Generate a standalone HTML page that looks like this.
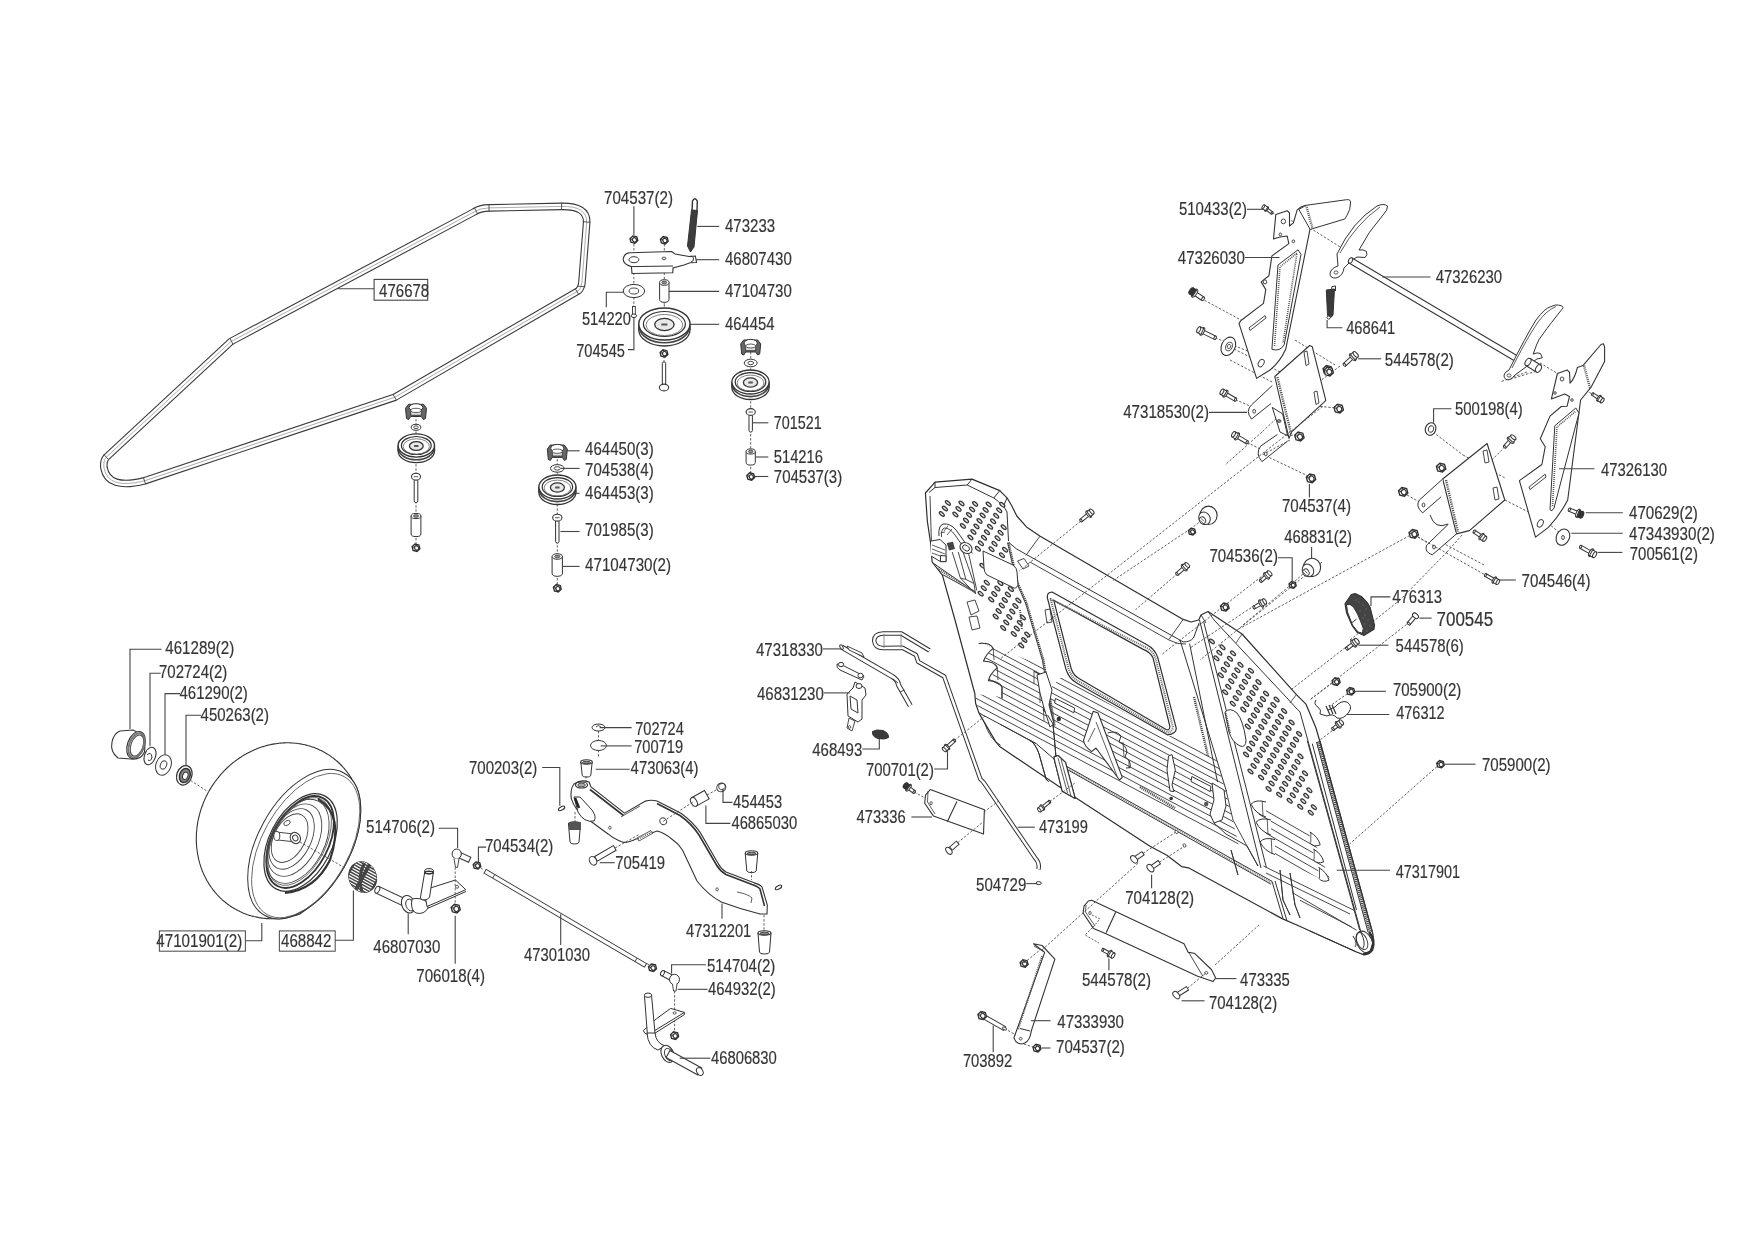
<!DOCTYPE html>
<html><head><meta charset="utf-8"><style>
html,body{margin:0;padding:0;background:#fff;}
svg{display:block;will-change:transform;}
text{font-family:"Liberation Sans",sans-serif;font-size:18px;fill:#353535;stroke:#353535;stroke-width:0.18px;}
</style></head><body>
<svg width="1754" height="1240" viewBox="0 0 1754 1240">
<rect width="1754" height="1240" fill="#fff"/>
<path d="M231,341.5 L474,212 Q480,208 489,207.9 L561.6,206.4 Q587,206 586.7,222 L581.9,283 Q581,289 578,291 L394.7,397.3 L144.5,480.8 Q108,490 104,468 Q103,461 106.3,457.2 Z" fill="none" stroke="#3a3a3a" stroke-width="7.6" stroke-linejoin="round"/>
<path d="M231,341.5 L474,212 Q480,208 489,207.9 L561.6,206.4 Q587,206 586.7,222 L581.9,283 Q581,289 578,291 L394.7,397.3 L144.5,480.8 Q108,490 104,468 Q103,461 106.3,457.2 Z" fill="none" stroke="#fff" stroke-width="5.4" stroke-linejoin="round"/>
<path d="M231,341.5 L474,212 Q480,208 489,207.9 L561.6,206.4 Q587,206 586.7,222 L581.9,283 Q581,289 578,291 L394.7,397.3 L144.5,480.8 Q108,490 104,468 Q103,461 106.3,457.2 Z" fill="none" stroke="#999" stroke-width="0.8" stroke-linejoin="round"/>
<g stroke="#444" stroke-width="0.9"><line x1="229.8" y1="338.0" x2="233.2" y2="344.6"/><line x1="103.8" y1="454.5" x2="108.8" y2="459.9"/><line x1="143.3" y1="477.3" x2="145.7" y2="484.3"/><line x1="392.8" y1="394.1" x2="396.6" y2="400.5"/><line x1="474.3" y1="207.5" x2="477.7" y2="214.1"/><line x1="489.0" y1="204.2" x2="489.0" y2="211.6"/><line x1="561.6" y1="202.7" x2="561.6" y2="210.1"/><line x1="582.9" y1="221.7" x2="590.3" y2="222.3"/><line x1="577.9" y1="286.2" x2="585.3" y2="286.8"/><line x1="575.1" y1="288.4" x2="578.9" y2="294.8"/></g>
<rect x="374.1" y="279.4" width="53.6" height="20.8" fill="none" stroke="#444" stroke-width="1.1"/>
<line x1="633.9" y1="244" x2="633.9" y2="306" stroke="#444" stroke-width="0.85" stroke-dasharray="2.4,1.7" fill="none"/>
<line x1="664.3" y1="244" x2="664.3" y2="306" stroke="#444" stroke-width="0.85" stroke-dasharray="2.4,1.7" fill="none"/>
<line x1="664.3" y1="296" x2="664.3" y2="312" stroke="#444" stroke-width="0.85" stroke-dasharray="2.4,1.7" fill="none"/>
<line x1="664" y1="356" x2="664" y2="362" stroke="#444" stroke-width="0.85" stroke-dasharray="2.4,1.7" fill="none"/>
<path d="M637.8,240.6 L634.9,243.3 L631.0,242.3 L630.0,238.6 L632.9,235.9 L636.8,236.9 Z" fill="#fff" stroke="#2e2e2e" stroke-width="1.35"/><ellipse cx="634.5" cy="239.9" rx="2.0" ry="2.2" fill="#fff" stroke="#333" stroke-width="1.2" transform="rotate(-30 634.5 239.9)" /><path d="M630.0,238.6 L632.7,239.6 M632.9,235.9 L633.9,237.6 M633.9,241.6 L634.9,243.3" stroke="#333" stroke-width="1"/>
<path d="M668.2,241.2 L665.3,243.9 L661.4,242.9 L660.4,239.2 L663.3,236.5 L667.2,237.5 Z" fill="#fff" stroke="#2e2e2e" stroke-width="1.35"/><ellipse cx="664.9" cy="240.5" rx="2.0" ry="2.2" fill="#fff" stroke="#333" stroke-width="1.2" transform="rotate(-30 664.9 240.5)" /><path d="M660.4,239.2 L663.1,240.2 M663.3,236.5 L664.3,238.2 M664.3,242.2 L665.3,243.9" stroke="#333" stroke-width="1"/>
<path d="M691.5,210 L697.5,210.5 L694,247 L690.5,252 L687.5,246 Z" fill="#3d3d3d" stroke="#333" stroke-width="1"/>
<path d="M692,211 L692.5,201 Q694.8,196.5 697.3,201 L697,210.5" fill="none" stroke="#333" stroke-width="1.4"/>
<path d="M630.2,252.8 L671.6,251.5 L675,254 L689,256.5 L695.4,256 L696.5,262.5 L690,262.8 L684,265 L673,268 L672.8,272.8 L632,273.5 L631.4,266.6 Q623,264 623.2,259 Q624,253 630.2,252.8 Z" fill="#fff" stroke="#333" stroke-width="1.1"/>
<path d="M631.4,266.6 L673,266" fill="none" stroke="#333" stroke-width="1"/>
<ellipse cx="633.9" cy="259.7" rx="5.0" ry="3.0" fill="#fff" stroke="#333" stroke-width="1.0" /><ellipse cx="664.0" cy="258.4" rx="2.0" ry="1.2" fill="#fff" stroke="#333" stroke-width="0.9" />
<path d="M689.5,256.5 Q692,255 693.5,258 Q694,261.5 691,262" fill="none" stroke="#333" stroke-width="1"/>
<ellipse cx="633.9" cy="291.0" rx="10.7" ry="6.6" fill="#fff" stroke="#333" stroke-width="1.0" /><ellipse cx="633.9" cy="291.0" rx="4.8" ry="3.0" fill="#fff" stroke="#333" stroke-width="0.9" />
<path d="M659.6,282.5 L659.6,299.5 A4.7,2.8 0 0 0 669.0,299.5 L669.0,282.5" fill="#fff" stroke="#333" stroke-width="1"/><ellipse cx="664.3" cy="282.5" rx="4.7" ry="2.8" fill="#fff" stroke="#333" stroke-width="1.0" /><ellipse cx="664.3" cy="282.5" rx="2.4" ry="1.4" fill="#999" stroke="#333" stroke-width="0.8" />
<rect x="632.5" y="306.5" width="2.8" height="10" fill="#fff" stroke="#333" stroke-width="0.9"/><ellipse cx="633.9" cy="315.8" rx="2.6" ry="1.8" fill="#fff" stroke="#333" stroke-width="1" />
<g><ellipse cx="664.4" cy="330.0" rx="25.6" ry="16.0" fill="#fff" stroke="#333" stroke-width="1.3" /><rect x="638.8" y="324.0" width="51.2" height="6.0" fill="#fff"/><line x1="638.8" y1="324.0" x2="638.8" y2="330.0" stroke="#333" stroke-width="1.3"/><line x1="690.0" y1="324.0" x2="690.0" y2="330.0" stroke="#333" stroke-width="1.3"/><ellipse cx="664.4" cy="327.3" rx="24.8" ry="15.5" fill="none" stroke="#444" stroke-width="1.6" /><ellipse cx="664.4" cy="324.0" rx="25.6" ry="16.0" fill="#fff" stroke="#333" stroke-width="1.4" /><ellipse cx="664.4" cy="324.0" rx="21.0" ry="12.5" fill="none" stroke="#333" stroke-width="1.2" /><ellipse cx="664.4" cy="325.0" rx="18.4" ry="10.6" fill="none" stroke="#666" stroke-width="0.8" /><ellipse cx="664.4" cy="324.5" rx="9.7" ry="6.1" fill="#e8e8e8" stroke="#333" stroke-width="1.3" /><rect x="661.3" y="323.5" width="6.1" height="2" fill="#555"/></g>
<path d="M667.9,354.4 L665.0,357.1 L661.1,356.1 L660.1,352.4 L663.0,349.7 L666.9,350.7 Z" fill="#fff" stroke="#2e2e2e" stroke-width="1.35"/><ellipse cx="664.6" cy="353.7" rx="2.0" ry="2.2" fill="#fff" stroke="#333" stroke-width="1.2" transform="rotate(-30 664.6 353.7)" /><path d="M660.1,352.4 L662.8,353.4 M663.0,349.7 L664.0,351.4 M664.0,355.4 L665.0,357.1" stroke="#333" stroke-width="1"/>
<rect x="662.3" y="362.0" width="3.4" height="25.5" rx="1.5" fill="#fff" stroke="#333" stroke-width="1"/><ellipse cx="664.0" cy="387.5" rx="4.6" ry="3.4" fill="#fff" stroke="#333" stroke-width="1.1" />
<line x1="750.7" y1="352" x2="750.7" y2="480" stroke="#444" stroke-width="0.85" stroke-dasharray="2.4,1.7" fill="none"/>
<path d="M740.7,343.9 L741.7,354.0 L743.7,355.0 L745.7,352.0 L755.7,352.0 L757.7,355.0 L759.7,354.0 L760.7,343.9 L757.7,340.0 L743.7,340.0 Z" fill="#666" stroke="#333" stroke-width="1"/><ellipse cx="750.7" cy="343.1" rx="6.6" ry="3.7" fill="#fff" stroke="#333" stroke-width="1.0" /><rect x="745.7" y="345.6" width="10.0" height="5.1" fill="#ddd" stroke="#333" stroke-width="0.8"/><ellipse cx="750.7" cy="346.0" rx="5.0" ry="2.0" fill="#fff" stroke="#333" stroke-width="0.8" />
<ellipse cx="750.7" cy="363.0" rx="6.5" ry="3.8" fill="#fff" stroke="#333" stroke-width="1.0" /><ellipse cx="750.7" cy="363.0" rx="2.9" ry="1.7" fill="#fff" stroke="#333" stroke-width="0.9" />
<g><ellipse cx="750.5" cy="387.5" rx="18.6" ry="12.0" fill="#fff" stroke="#333" stroke-width="1.3" /><rect x="731.9" y="382.0" width="37.2" height="5.5" fill="#fff"/><line x1="731.9" y1="382.0" x2="731.9" y2="387.5" stroke="#333" stroke-width="1.3"/><line x1="769.1" y1="382.0" x2="769.1" y2="387.5" stroke="#333" stroke-width="1.3"/><ellipse cx="750.5" cy="385.0" rx="18.0" ry="11.6" fill="none" stroke="#444" stroke-width="1.6" /><ellipse cx="750.5" cy="382.0" rx="18.6" ry="12.0" fill="#fff" stroke="#333" stroke-width="1.4" /><ellipse cx="750.5" cy="382.0" rx="15.3" ry="9.4" fill="none" stroke="#333" stroke-width="1.2" /><ellipse cx="750.5" cy="383.0" rx="13.4" ry="7.9" fill="none" stroke="#666" stroke-width="0.8" /><ellipse cx="750.5" cy="382.5" rx="7.1" ry="4.6" fill="#e8e8e8" stroke="#333" stroke-width="1.3" /><rect x="748.3" y="381.5" width="4.5" height="2" fill="#555"/></g>
<rect x="749.0" y="412.0" width="3.4" height="20.0" rx="1.5" fill="#fff" stroke="#333" stroke-width="1"/><ellipse cx="750.7" cy="412.0" rx="4.6" ry="3.4" fill="#fff" stroke="#333" stroke-width="1.1" /><line x1="748.4" y1="412.0" x2="753.0" y2="412.0" stroke="#333" stroke-width="0.8"/>
<path d="M746.1,451.5 L746.1,462.5 A4.6,2.6 0 0 0 755.3,462.5 L755.3,451.5" fill="#fff" stroke="#333" stroke-width="1"/><ellipse cx="750.7" cy="451.5" rx="4.6" ry="2.6" fill="#fff" stroke="#333" stroke-width="1.0" /><ellipse cx="750.7" cy="451.5" rx="2.3" ry="1.3" fill="#999" stroke="#333" stroke-width="0.8" />
<path d="M754.6,477.5 L751.7,480.2 L747.8,479.2 L746.8,475.5 L749.7,472.8 L753.6,473.8 Z" fill="#fff" stroke="#2e2e2e" stroke-width="1.35"/><ellipse cx="751.3" cy="476.8" rx="2.0" ry="2.2" fill="#fff" stroke="#333" stroke-width="1.2" transform="rotate(-30 751.3000000000001 476.8)" /><path d="M746.8,475.5 L749.5,476.5 M749.7,472.8 L750.7,474.5 M750.7,478.5 L751.7,480.2" stroke="#333" stroke-width="1"/>
<line x1="557.3" y1="455" x2="557.3" y2="590" stroke="#444" stroke-width="0.85" stroke-dasharray="2.4,1.7" fill="none"/>
<path d="M547.3,449.1 L548.3,459.4 L550.3,460.4 L552.3,457.4 L562.3,457.4 L564.3,460.4 L566.3,459.4 L567.3,449.1 L564.3,445.0 L550.3,445.0 Z" fill="#666" stroke="#333" stroke-width="1"/><ellipse cx="557.3" cy="448.2" rx="6.6" ry="3.8" fill="#fff" stroke="#333" stroke-width="1.0" /><rect x="552.3" y="450.8" width="10.0" height="5.2" fill="#ddd" stroke="#333" stroke-width="0.8"/><ellipse cx="557.3" cy="451.2" rx="5.0" ry="2.1" fill="#fff" stroke="#333" stroke-width="0.8" />
<ellipse cx="557.3" cy="468.4" rx="6.8" ry="3.8" fill="#fff" stroke="#333" stroke-width="1.0" /><ellipse cx="557.3" cy="468.4" rx="3.1" ry="1.7" fill="#fff" stroke="#333" stroke-width="0.9" />
<g><ellipse cx="557.4" cy="492.5" rx="18.5" ry="12.0" fill="#fff" stroke="#333" stroke-width="1.3" /><rect x="538.9" y="487.0" width="37.0" height="5.5" fill="#fff"/><line x1="538.9" y1="487.0" x2="538.9" y2="492.5" stroke="#333" stroke-width="1.3"/><line x1="575.9" y1="487.0" x2="575.9" y2="492.5" stroke="#333" stroke-width="1.3"/><ellipse cx="557.4" cy="490.0" rx="17.9" ry="11.6" fill="none" stroke="#444" stroke-width="1.6" /><ellipse cx="557.4" cy="487.0" rx="18.5" ry="12.0" fill="#fff" stroke="#333" stroke-width="1.4" /><ellipse cx="557.4" cy="487.0" rx="15.2" ry="9.4" fill="none" stroke="#333" stroke-width="1.2" /><ellipse cx="557.4" cy="488.0" rx="13.3" ry="7.9" fill="none" stroke="#666" stroke-width="0.8" /><ellipse cx="557.4" cy="487.5" rx="7.0" ry="4.6" fill="#e8e8e8" stroke="#333" stroke-width="1.3" /><rect x="555.2" y="486.5" width="4.4" height="2" fill="#555"/></g>
<rect x="555.6" y="517.7" width="3.4" height="25.3" rx="1.5" fill="#fff" stroke="#333" stroke-width="1"/><ellipse cx="557.3" cy="517.7" rx="4.6" ry="3.4" fill="#fff" stroke="#333" stroke-width="1.1" /><line x1="555.0" y1="517.7" x2="559.6" y2="517.7" stroke="#333" stroke-width="0.8"/>
<path d="M552.1,556.5 L552.1,574.0 A5.2,2.8 0 0 0 562.4,574.0 L562.4,556.5" fill="#fff" stroke="#333" stroke-width="1"/><ellipse cx="557.3" cy="556.5" rx="5.2" ry="2.8" fill="#fff" stroke="#333" stroke-width="1.0" /><ellipse cx="557.3" cy="556.5" rx="2.6" ry="1.4" fill="#999" stroke="#333" stroke-width="0.8" />
<path d="M561.2,589.3 L558.3,592.0 L554.4,591.0 L553.4,587.3 L556.3,584.6 L560.2,585.6 Z" fill="#fff" stroke="#2e2e2e" stroke-width="1.35"/><ellipse cx="557.9" cy="588.6" rx="2.0" ry="2.2" fill="#fff" stroke="#333" stroke-width="1.2" transform="rotate(-30 557.9 588.5999999999999)" /><path d="M553.4,587.3 L556.1,588.3 M556.3,584.6 L557.3,586.3 M557.3,590.3 L558.3,592.0" stroke="#333" stroke-width="1"/>
<line x1="416" y1="415" x2="416" y2="550" stroke="#444" stroke-width="0.85" stroke-dasharray="2.4,1.7" fill="none"/>
<path d="M405.5,408.3 L406.5,418.5 L408.5,419.5 L410.8,416.5 L421.2,416.5 L423.5,419.5 L425.5,418.5 L426.5,408.3 L423.5,404.3 L408.5,404.3 Z" fill="#666" stroke="#333" stroke-width="1"/><ellipse cx="416.0" cy="407.5" rx="6.9" ry="3.8" fill="#fff" stroke="#333" stroke-width="1.0" /><rect x="410.8" y="410.0" width="10.5" height="5.2" fill="#ddd" stroke="#333" stroke-width="0.8"/><ellipse cx="416.0" cy="410.4" rx="5.2" ry="2.1" fill="#fff" stroke="#333" stroke-width="0.8" />
<ellipse cx="416.0" cy="427.3" rx="4.8" ry="3.0" fill="#fff" stroke="#333" stroke-width="1.0" /><ellipse cx="416.0" cy="427.3" rx="2.2" ry="1.4" fill="#fff" stroke="#333" stroke-width="0.9" />
<g><ellipse cx="416.3" cy="451.0" rx="18.2" ry="11.6" fill="#fff" stroke="#333" stroke-width="1.3" /><rect x="398.1" y="445.5" width="36.4" height="5.5" fill="#fff"/><line x1="398.1" y1="445.5" x2="398.1" y2="451.0" stroke="#333" stroke-width="1.3"/><line x1="434.5" y1="445.5" x2="434.5" y2="451.0" stroke="#333" stroke-width="1.3"/><ellipse cx="416.3" cy="448.5" rx="17.7" ry="11.3" fill="none" stroke="#444" stroke-width="1.6" /><ellipse cx="416.3" cy="445.5" rx="18.2" ry="11.6" fill="#fff" stroke="#333" stroke-width="1.4" /><ellipse cx="416.3" cy="445.5" rx="14.9" ry="9.0" fill="none" stroke="#333" stroke-width="1.2" /><ellipse cx="416.3" cy="446.5" rx="13.1" ry="7.7" fill="none" stroke="#666" stroke-width="0.8" /><ellipse cx="416.3" cy="446.0" rx="6.9" ry="4.4" fill="#e8e8e8" stroke="#333" stroke-width="1.3" /><rect x="414.1" y="445.0" width="4.4" height="2" fill="#555"/></g>
<rect x="414.2" y="476.7" width="3.6" height="25.8" rx="1.5" fill="#fff" stroke="#333" stroke-width="1"/><ellipse cx="416.0" cy="476.7" rx="4.5" ry="3.4" fill="#fff" stroke="#333" stroke-width="1.1" /><line x1="413.8" y1="476.7" x2="418.2" y2="476.7" stroke="#333" stroke-width="0.8"/>
<path d="M411.1,516.0 L411.1,534.0 A4.9,2.6 0 0 0 420.9,534.0 L420.9,516.0" fill="#fff" stroke="#333" stroke-width="1"/><ellipse cx="416.0" cy="516.0" rx="4.9" ry="2.6" fill="#fff" stroke="#333" stroke-width="1.0" /><ellipse cx="416.0" cy="516.0" rx="2.5" ry="1.3" fill="#999" stroke="#333" stroke-width="0.8" />
<path d="M419.9,548.7 L417.0,551.4 L413.1,550.4 L412.1,546.7 L415.0,544.0 L418.9,545.0 Z" fill="#fff" stroke="#2e2e2e" stroke-width="1.35"/><ellipse cx="416.6" cy="548.0" rx="2.0" ry="2.2" fill="#fff" stroke="#333" stroke-width="1.2" transform="rotate(-30 416.6 548.0)" /><path d="M412.1,546.7 L414.8,547.7 M415.0,544.0 L416.0,545.7 M416.0,549.7 L417.0,551.4" stroke="#333" stroke-width="1"/>
<line x1="190.6" y1="780.5" x2="207.7" y2="791.6" stroke="#444" stroke-width="0.85" stroke-dasharray="2.4,1.7" fill="none"/>
<path d="M196.3,838.4 L196.3,836.9 L196.4,835.3 L196.4,833.8 L196.5,832.2 L196.7,830.7 L196.8,829.2 L197.0,827.6 L197.2,826.1 L197.4,824.6 L197.6,823.0 L197.9,821.5 L198.2,820.0 L198.5,818.5 L198.9,817.0 L199.3,815.4 L199.7,813.9 L200.1,812.4 L200.5,810.9 L201.0,809.4 L201.5,807.9 L202.0,806.5 L202.6,805.0 L203.1,803.5 L203.7,802.1 L204.3,800.6 L204.9,799.2 L205.6,797.8 L206.3,796.3 L207.0,794.9 L207.7,793.5 L208.5,792.1 L209.2,790.8 L210.0,789.4 L210.8,788.1 L211.7,786.7 L212.5,785.4 L213.4,784.1 L214.3,782.8 L215.2,781.5 L216.1,780.3 L217.1,779.0 L218.1,777.8 L219.1,776.6 L220.1,775.4 L221.1,774.2 L222.1,773.0 L223.2,771.9 L224.3,770.7 L225.4,769.6 L226.5,768.5 L227.6,767.5 L228.8,766.4 L229.9,765.4 L231.1,764.3 L232.3,763.3 L233.5,762.4 L234.8,761.4 L236.0,760.5 L237.2,759.6 L238.5,758.7 L239.8,757.8 L241.1,757.0 L242.3,756.1 L243.7,755.3 L245.0,754.6 L246.3,753.8 L247.7,753.1 L249.0,752.4 L250.4,751.7 L251.8,751.0 L253.1,750.4 L254.5,749.8 L255.9,749.2 L257.3,748.6 L258.7,748.1 L260.1,747.6 L261.6,747.1 L263.0,746.6 L264.4,746.2 L265.9,745.8 L267.3,745.4 L268.7,745.0 L270.2,744.7 L271.6,744.4 L273.1,744.1 L274.6,743.9 L276.0,743.7 L277.5,743.5 L278.9,743.3 L280.4,743.1 L281.9,743.0 L283.3,742.9 L284.8,742.9 L286.2,742.8 L287.7,742.8 L289.1,742.8 L290.6,742.9 L292.0,743.0 L293.5,743.0 L294.9,743.2 L296.4,743.3 L297.8,743.5 L299.2,743.7 L300.6,743.9 L302.0,744.2 L303.4,744.5 L304.9,744.8 L306.2,745.1 L307.6,745.5 L309.0,745.8 L310.4,746.2 L311.7,746.7 L313.1,747.1 L314.4,747.6 L315.7,748.2 L317.1,748.7 L318.4,749.3 L319.6,749.9 L320.9,750.5 L322.2,751.1 L323.4,751.8 L324.7,752.5 L325.9,753.2 L327.1,753.9 L328.3,754.6 L329.5,755.4 L330.7,756.2 L331.8,757.1 L333.0,757.9 L334.1,758.8 L335.2,759.7 L336.3,760.6 L337.4,761.5 L338.4,762.5 L339.5,763.5 L340.5,764.5 L341.5,765.5 L342.5,766.5 L343.4,767.6 L344.4,768.6 L345.3,769.8 L346.2,770.9 L347.1,772.0 L347.9,773.1 L348.8,774.3 L349.6,775.5 L350.4,776.7 L351.2,777.9 L351.9,779.2 L354.4,783.4 L355.3,784.9 L356.1,786.5 L356.9,788.2 L357.5,790.0 L358.2,791.8 L358.8,793.7 L359.2,795.7 L359.6,797.7 L360.0,799.7 L360.2,801.9 L360.5,804.0 L360.6,806.2 L360.7,808.5 L360.7,810.8 L360.6,813.2 L360.5,815.6 L360.3,818.0 L360.1,820.4 L359.7,822.9 L359.3,825.4 L358.9,828.0 L358.3,830.5 L357.7,833.1 L357.1,835.7 L356.3,838.3 L355.5,840.9 L354.7,843.5 L353.8,846.1 L352.8,848.7 L351.7,851.3 L350.6,853.9 L349.5,856.4 L348.3,859.0 L347.0,861.5 L345.7,864.0 L344.4,866.5 L342.9,869.0 L341.5,871.5 L340.0,873.9 L338.4,876.2 L336.8,878.5 L335.2,880.8 L333.5,883.1 L331.8,885.3 L330.1,887.4 L328.3,889.5 L326.5,891.6 L324.7,893.5 L322.9,895.5 L321.0,897.3 L319.1,899.1 L317.2,900.8 L315.3,902.5 L313.3,904.1 L311.4,905.6 L309.4,907.0 L299.9,914.0 L298.4,914.5 L297.0,915.0 L295.6,915.4 L294.1,915.8 L287.9,917.5 L286.1,917.9 L284.2,918.2 L282.4,918.5 L280.6,918.6 L278.8,918.7 L273.8,918.8 L272.3,918.8 L270.9,918.8 L269.4,918.7 L268.0,918.6 L266.5,918.6 L265.1,918.4 L263.6,918.3 L262.2,918.1 L260.8,917.9 L259.4,917.7 L258.0,917.4 L256.6,917.1 L255.2,916.8 L253.8,916.5 L252.4,916.1 L251.0,915.8 L249.6,915.4 L248.3,914.9 L246.9,914.5 L245.6,914.0 L244.3,913.4 L242.9,912.9 L241.7,912.3 L240.4,911.8 L239.1,911.1 L237.8,910.5 L236.6,909.8 L235.3,909.1 L234.1,908.4 L232.9,907.7 L231.7,907.0 L230.5,906.2 L229.3,905.4 L228.2,904.5 L227.0,903.7 L225.9,902.8 L224.8,901.9 L223.7,901.0 L222.6,900.1 L221.6,899.1 L220.5,898.1 L219.5,897.1 L218.5,896.1 L217.5,895.1 L216.6,894.0 L215.6,893.0 L214.7,891.9 L213.8,890.7 L212.9,889.6 L212.1,888.5 L211.2,887.3 L210.4,886.1 L209.6,884.9 L208.8,883.7 L208.1,882.4 L207.3,881.2 L206.6,879.9 L205.9,878.6 L205.2,877.3 L204.6,876.0 L204.0,874.7 L203.4,873.4 L202.8,872.0 L202.2,870.7 L201.7,869.3 L201.2,867.9 L200.7,866.5 L200.3,865.1 L199.8,863.7 L199.4,862.2 L199.1,860.8 L198.7,859.4 L198.4,857.9 L198.1,856.4 L197.8,855.0 L197.5,853.5 L197.3,852.0 L197.1,850.5 L196.9,849.0 L196.7,847.5 L196.6,846.0 L196.5,844.5 L196.4,843.0 L196.3,841.4 L196.3,839.9 Z" fill="#fff" stroke="#333" stroke-width="1.1"/>
<ellipse cx="304.2" cy="844.1" rx="81.5" ry="46.0" fill="#fff" stroke="#333" stroke-width="1.0" transform="rotate(-60.8 304.2 844.1)" />
<ellipse cx="305.7" cy="845.6" rx="79.0" ry="43.5" fill="none" stroke="#555" stroke-width="0.8" transform="rotate(-60.8 305.7 845.6)" />
<ellipse cx="300.6" cy="842.5" rx="52.5" ry="31.2" fill="#fff" stroke="#333" stroke-width="1.2" transform="rotate(-62.7 300.6 842.5)" />
<ellipse cx="300.1" cy="842.0" rx="49.5" ry="28.2" fill="none" stroke="#333" stroke-width="1.8" transform="rotate(-62.7 300.1 842.0)" />
<ellipse cx="299.6" cy="841.5" rx="47.5" ry="26.2" fill="none" stroke="#555" stroke-width="0.8" transform="rotate(-62.7 299.6 841.5)" />
<ellipse cx="297.6" cy="841.3" rx="45.1" ry="26.8" fill="none" stroke="#444" stroke-width="0.9" transform="rotate(-62.7 297.6 841.3)" />
<ellipse cx="294.6" cy="840.1" rx="38.9" ry="23.1" fill="none" stroke="#444" stroke-width="0.9" transform="rotate(-62.7 294.6 840.1)" />
<ellipse cx="291.6" cy="838.9" rx="32.5" ry="19.3" fill="none" stroke="#444" stroke-width="0.9" transform="rotate(-62.7 291.6 838.9)" />
<ellipse cx="289.6" cy="838.1" rx="26.2" ry="15.6" fill="none" stroke="#444" stroke-width="0.9" transform="rotate(-62.7 289.6 838.1)" />
<path d="M318,799 Q345,815 330,860 Q315,890 285,893" fill="none" stroke="#333" stroke-width="2.2"/>
<path d="M276,832 L294,834 L296,842 L278,840 Z" fill="#fff" stroke="#333" stroke-width="0.9"/>
<ellipse cx="276.8" cy="836.0" rx="3.0" ry="4.5" fill="#fff" stroke="#333" stroke-width="0.9" />
<ellipse cx="295.3" cy="838.0" rx="5.0" ry="5.8" fill="#fff" stroke="#333" stroke-width="1.0" transform="rotate(-30 295.3 838)" /><ellipse cx="295.3" cy="838.0" rx="2.6" ry="3.0" fill="#fff" stroke="#333" stroke-width="0.9" transform="rotate(-30 295.3 838)" />
<ellipse cx="287.0" cy="823.0" rx="3.5" ry="2.2" fill="#fff" stroke="#333" stroke-width="0.8" transform="rotate(-30 287 823)" />
<line x1="300" y1="842" x2="345" y2="868" stroke="#444" stroke-width="0.85" stroke-dasharray="2.4,1.7" fill="none"/>
<clipPath id="nbclip"><ellipse cx="362.7" cy="877.1" rx="13.6" ry="15.6" transform="rotate(-25 362.7 877.1)"/></clipPath>
<ellipse cx="362.7" cy="877.1" rx="13.6" ry="15.6" fill="#444" stroke="#3a3a3a" stroke-width="1.0" transform="rotate(-25 362.7 877.1)" />
<g clip-path="url(#nbclip)"><line x1="357.8" y1="859.0" x2="367.6" y2="864.4" stroke="#fff" stroke-width="1.2"/><line x1="370.8" y1="866.1" x2="380.6" y2="871.5" stroke="#fff" stroke-width="1.2"/><line x1="356.5" y1="861.4" x2="366.3" y2="866.8" stroke="#fff" stroke-width="1.2"/><line x1="369.5" y1="868.5" x2="379.3" y2="873.9" stroke="#fff" stroke-width="1.2"/><line x1="355.2" y1="863.7" x2="365.0" y2="869.1" stroke="#fff" stroke-width="1.2"/><line x1="368.2" y1="870.9" x2="378.0" y2="876.3" stroke="#fff" stroke-width="1.2"/><line x1="353.9" y1="866.1" x2="363.7" y2="871.5" stroke="#fff" stroke-width="1.2"/><line x1="366.9" y1="873.2" x2="376.7" y2="878.6" stroke="#fff" stroke-width="1.2"/><line x1="352.6" y1="868.5" x2="362.4" y2="873.9" stroke="#fff" stroke-width="1.2"/><line x1="365.6" y1="875.6" x2="375.4" y2="881.0" stroke="#fff" stroke-width="1.2"/><line x1="351.3" y1="870.8" x2="361.1" y2="876.2" stroke="#fff" stroke-width="1.2"/><line x1="364.3" y1="878.0" x2="374.1" y2="883.4" stroke="#fff" stroke-width="1.2"/><line x1="350.0" y1="873.2" x2="359.8" y2="878.6" stroke="#fff" stroke-width="1.2"/><line x1="363.0" y1="880.3" x2="372.8" y2="885.7" stroke="#fff" stroke-width="1.2"/><line x1="348.7" y1="875.6" x2="358.5" y2="881.0" stroke="#fff" stroke-width="1.2"/><line x1="361.7" y1="882.7" x2="371.5" y2="888.1" stroke="#fff" stroke-width="1.2"/><line x1="347.4" y1="877.9" x2="357.2" y2="883.3" stroke="#fff" stroke-width="1.2"/><line x1="360.4" y1="885.1" x2="370.2" y2="890.5" stroke="#fff" stroke-width="1.2"/><line x1="346.1" y1="880.3" x2="355.9" y2="885.7" stroke="#fff" stroke-width="1.2"/><line x1="359.1" y1="887.4" x2="368.9" y2="892.8" stroke="#fff" stroke-width="1.2"/><line x1="344.8" y1="882.7" x2="354.6" y2="888.1" stroke="#fff" stroke-width="1.2"/><line x1="357.8" y1="889.8" x2="367.6" y2="895.2" stroke="#fff" stroke-width="1.2"/></g>
<path d="M364.5,863 Q357,877 362,892" fill="none" stroke="#444" stroke-width="3"/>
<path d="M120,731 L133,730 Q147,736 144.5,752 Q141,760 131,759 L118,758 Q110,752 112,742 Q114,733 120,731 Z" fill="#fff" stroke="#333" stroke-width="1.1"/>
<ellipse cx="136.0" cy="745.0" rx="8.5" ry="14.0" fill="#fff" stroke="#333" stroke-width="1.2" transform="rotate(20 136 745)" /><ellipse cx="137.0" cy="745.5" rx="6.0" ry="11.0" fill="none" stroke="#444" stroke-width="1.0" transform="rotate(20 137 745.5)" /><ellipse cx="136.5" cy="745.3" rx="7.3" ry="12.6" fill="none" stroke="#777" stroke-width="2" transform="rotate(20 136.5 745.3)" />
<ellipse cx="150.0" cy="756.0" rx="5.5" ry="9.0" fill="#fff" stroke="#333" stroke-width="1.1" transform="rotate(20 150 756)" /><path d="M147,755 Q151,751 152,757 Q151,762 148,760" fill="none" stroke="#333" stroke-width="1"/>
<rect x="147" y="750" width="5" height="3" fill="#fff"/>
<ellipse cx="163.5" cy="765.0" rx="7.5" ry="10.5" fill="#fff" stroke="#333" stroke-width="1.0" transform="rotate(20 163.5 765)" /><ellipse cx="163.5" cy="765.0" rx="3.1" ry="4.4" fill="#fff" stroke="#333" stroke-width="0.9" transform="rotate(20 163.5 765)" />
<ellipse cx="184.3" cy="775.3" rx="7.5" ry="10.0" fill="#fff" stroke="#333" stroke-width="1.3" transform="rotate(20 184.3 775.3)" /><ellipse cx="184.8" cy="775.5" rx="5.2" ry="7.2" fill="#888" stroke="#333" stroke-width="1.5" transform="rotate(20 184.8 775.5)" /><ellipse cx="185.3" cy="775.8" rx="2.6" ry="3.8" fill="#fff" stroke="#333" stroke-width="1.0" transform="rotate(20 185.3 775.8)" />
<rect x="159.4" y="930.9" width="86" height="20.3" fill="none" stroke="#555" stroke-width="1.1"/>
<rect x="279.4" y="930.9" width="55.8" height="20.3" fill="none" stroke="#555" stroke-width="1.1"/>
<g transform="translate(377.3,889.7) rotate(25.26)"><rect x="0" y="-3.6" width="29.5" height="7.2" fill="#fff" stroke="#333" stroke-width="1.0"/><ellipse cx="0" cy="0" rx="2.2" ry="3.6" fill="#fff" stroke="#333" stroke-width="1.0"/></g>
<ellipse cx="408.2" cy="904.2" rx="6.5" ry="9.0" fill="#fff" stroke="#333" stroke-width="1.1" transform="rotate(-20 408.2 904.2)" /><ellipse cx="410.0" cy="905.0" rx="4.0" ry="6.0" fill="#fff" stroke="#333" stroke-width="0.9" transform="rotate(-20 410 905)" />
<path d="M412,899 Q420,897 427,902 L428,908 Q424,915 416,913 Q410,910 412,899 Z" fill="#fff" stroke="#333" stroke-width="1"/>
<path d="M424,890 L455.5,880 L465.8,889.7 L427,906.5 Z" fill="#fff" stroke="#333" stroke-width="1"/>
<line x1="428.0" y1="908.2" x2="466.0" y2="891.5" stroke="#333" stroke-width="1.0"/>
<ellipse cx="457.1" cy="886.8" rx="1.6" ry="1.4" fill="none" stroke="#333" stroke-width="0.8" />
<path d="M424.7,872.3 L420.3,898.4 Q425,902 429.5,897.4 L433.4,872.3 Z" fill="#fff" stroke="#333" stroke-width="1"/>
<ellipse cx="429.0" cy="871.2" rx="4.4" ry="2.6" fill="#fff" stroke="#333" stroke-width="1.0" /><ellipse cx="429.0" cy="872.5" rx="4.2" ry="1.2" fill="none" stroke="#333" stroke-width="1.4" />
<line x1="455.2" y1="867.4" x2="455.2" y2="904" stroke="#444" stroke-width="0.85" stroke-dasharray="2.4,1.7" fill="none"/>
<path d="M460.3,909.8 L456.9,912.9 L452.4,911.8 L451.1,907.4 L454.5,904.3 L459.0,905.4 Z" fill="#fff" stroke="#2e2e2e" stroke-width="1.35"/><ellipse cx="456.3" cy="908.9" rx="2.4" ry="2.6" fill="#fff" stroke="#333" stroke-width="1.2" transform="rotate(-30 456.3 908.9)" /><path d="M451.1,907.4 L454.3,908.6 M454.5,904.3 L455.7,906.2 M455.7,911.0 L456.9,912.9" stroke="#333" stroke-width="1"/>
<g transform="translate(459.0,855.0) rotate(23.71)"><rect x="0" y="-2.8" width="11.7" height="5.6" fill="#fff" stroke="#333" stroke-width="1.0"/><ellipse cx="0" cy="0" rx="1.7" ry="2.8" fill="#fff" stroke="#333" stroke-width="1.0"/></g>
<ellipse cx="456.7" cy="853.9" rx="4.6" ry="4.9" fill="#fff" stroke="#333" stroke-width="1.0" />
<path d="M454,858.5 L455.5,867.4 L457.5,867.4 L459,858.5" fill="#fff" stroke="#333" stroke-width="0.9"/>
<path d="M480.8,866.5 L478.0,869.1 L474.2,868.2 L473.2,864.5 L476.0,861.9 L479.8,862.8 Z" fill="#fff" stroke="#2e2e2e" stroke-width="1.35"/><ellipse cx="477.6" cy="865.8" rx="2.0" ry="2.2" fill="#fff" stroke="#333" stroke-width="1.2" transform="rotate(-30 477.6 865.8)" /><path d="M473.2,864.5 L475.8,865.5 M476.0,861.9 L477.0,863.5 M477.0,867.5 L478.0,869.1" stroke="#333" stroke-width="1"/>
<g transform="translate(485.1,871.3) rotate(30.4)"><rect x="0" y="-2.1" width="186" height="4.2" fill="#fff" stroke="#333" stroke-width="0.9"/><line x1="10" y1="-2.1" x2="10" y2="2.1" stroke="#333" stroke-width="0.8"/><line x1="175" y1="-2.1" x2="175" y2="2.1" stroke="#333" stroke-width="0.8"/></g>
<line x1="480.5" y1="867.8" x2="484" y2="870" stroke="#444" stroke-width="0.85" stroke-dasharray="2.4,1.7" fill="none"/>
<line x1="647" y1="963.5" x2="650" y2="965.5" stroke="#444" stroke-width="0.85" stroke-dasharray="2.4,1.7" fill="none"/>
<path d="M656.5,968.7 L653.6,971.5 L649.5,970.5 L648.5,966.7 L651.4,963.9 L655.5,964.9 Z" fill="#fff" stroke="#2e2e2e" stroke-width="1.35"/><ellipse cx="653.1" cy="968.0" rx="2.1" ry="2.3" fill="#fff" stroke="#333" stroke-width="1.2" transform="rotate(-30 653.1 968.0)" /><path d="M648.5,966.7 L651.2,967.7 M651.4,963.9 L652.5,965.6 M652.5,969.8 L653.6,971.5" stroke="#333" stroke-width="1"/>
<g transform="translate(662.5,973.1) rotate(27.28)"><rect x="0" y="-2.8" width="10.7" height="5.6" fill="#fff" stroke="#333" stroke-width="1.0"/><ellipse cx="0" cy="0" rx="1.7" ry="2.8" fill="#fff" stroke="#333" stroke-width="1.0"/></g>
<ellipse cx="674.5" cy="979.5" rx="5.0" ry="5.2" fill="#fff" stroke="#333" stroke-width="1.0" />
<path d="M672.5,984 L673.5,991 L676,991 L677,984" fill="#fff" stroke="#333" stroke-width="0.9"/>
<line x1="674.6" y1="991" x2="674.6" y2="1031" stroke="#444" stroke-width="0.85" stroke-dasharray="2.4,1.7" fill="none"/>
<path d="M643.3,1030.5 L656.5,1018.7 L670.7,1008.4 L684.4,1012.4 L684.4,1014.6 L652,1035 L645,1033.5 Z" fill="#fff" stroke="#333" stroke-width="1"/>
<line x1="684.4" y1="1012.4" x2="651.0" y2="1032.8" stroke="#333" stroke-width="1.0"/>
<ellipse cx="674.6" cy="1013.0" rx="1.6" ry="1.2" fill="none" stroke="#333" stroke-width="0.8" />
<path d="M644.5,996 L647.5,1036 Q652,1040 655,1033 L651.5,995 Z" fill="#fff" stroke="#333" stroke-width="1"/>
<ellipse cx="648.0" cy="995.2" rx="3.6" ry="2.2" fill="#fff" stroke="#333" stroke-width="1.0" />
<path d="M647,1033 Q648,1047 658,1050 L665,1046 Q656,1043 655,1033 Z" fill="#fff" stroke="#333" stroke-width="1"/>
<ellipse cx="667.5" cy="1053.8" rx="6.0" ry="9.0" fill="#fff" stroke="#333" stroke-width="1.1" transform="rotate(-25 667.5 1053.8)" /><ellipse cx="669.0" cy="1054.5" rx="4.0" ry="6.5" fill="#fff" stroke="#333" stroke-width="0.9" transform="rotate(-25 669 1054.5)" />
<g transform="translate(668.0,1054.0) rotate(28.82)"><rect x="0" y="-4.0" width="36.3" height="8.0" fill="#fff" stroke="#333" stroke-width="1.0"/></g>
<ellipse cx="699.8" cy="1071.5" rx="3.0" ry="4.2" fill="#fff" stroke="#333" stroke-width="1.0" transform="rotate(-30 699.8 1071.5)" />
<path d="M678.6,1036.6 L675.7,1039.4 L671.6,1038.4 L670.6,1034.6 L673.5,1031.8 L677.6,1032.8 Z" fill="#fff" stroke="#2e2e2e" stroke-width="1.35"/><ellipse cx="675.2" cy="1035.9" rx="2.1" ry="2.3" fill="#fff" stroke="#333" stroke-width="1.2" transform="rotate(-30 675.2 1035.8999999999999)" /><path d="M670.6,1034.6 L673.3,1035.6 M673.5,1031.8 L674.6,1033.5 M674.6,1037.7 L675.7,1039.4" stroke="#333" stroke-width="1"/>
<path d="M574,784 Q581,779 589,782 L591,787 L624.5,813.2 L645.5,801.1 Q651,799.5 657,801 L681,813.2 Q693,822 700.3,832.6 L718,863.2 Q721,869 726,872 L753.5,882.6 Q760,884.5 762,887 L767.3,905 L767,914 L760,914 Q740,909 721.3,902 Q708,895 697,881 L682.6,850.3 Q679,844 673,840 Q665,833 657,831 L636,839 Q628,843 622.9,842.3 Q614,839 608.4,834.2 L584.2,816.5 Q575,810 571.3,798.7 Q570,789 574,784 Z" fill="#fff" stroke="#333" stroke-width="1.1"/>
<path d="M590,789.5 L623.5,815.5 M657,803.5 L680,815.5 Q692,824 699,835 L716.5,865 Q720,871 726,874.5 L752,884.5 Q758,886.5 760,889 L764.5,906" fill="none" stroke="#333" stroke-width="1.6"/>
<ellipse cx="581.5" cy="785.0" rx="6.0" ry="3.0" fill="#fff" stroke="#333" stroke-width="1.2" /><ellipse cx="581.5" cy="785.0" rx="3.8" ry="1.8" fill="#aaa" stroke="#333" stroke-width="0.8" />
<path d="M574,797 L578,812 Q584,823 594,821 Q597,817 592,810 L580,797 Z" fill="#fff" stroke="#333" stroke-width="1"/>
<path d="M575,798 L579,808" stroke="#222" stroke-width="2.5"/>
<ellipse cx="609.9" cy="827.7" rx="1.2" ry="1.6" fill="none" stroke="#333" stroke-width="0.8" /><ellipse cx="717.1" cy="889.4" rx="1.2" ry="1.6" fill="none" stroke="#333" stroke-width="0.8" />
<ellipse cx="663.2" cy="821.3" rx="3.2" ry="3.6" fill="#fff" stroke="#333" stroke-width="0.9" transform="rotate(-20 663.2 821.3)" />
<path d="M637,838 L651,830.5 L653,833 L639,841 Z" fill="#fff" stroke="#333" stroke-width="0.8"/><path d="M638,839 L652,832" stroke="#555" stroke-width="1.5" stroke-dasharray="1,1"/>
<path d="M621,817 L640,806" stroke="#333" stroke-width="0.8"/>
<path d="M737,892 Q748,894 752,898 L751,903" fill="none" stroke="#333" stroke-width="0.8"/>
<path d="M580.8,762.0 L582.2,775.0 A4.2,2 0 0 0 590.8,775.0 L592.2,762.0 Z" fill="#fff" stroke="#333" stroke-width="1"/><ellipse cx="586.5" cy="762.0" rx="5.8" ry="2.2" fill="#fff" stroke="#333" stroke-width="1.1" /><ellipse cx="586.5" cy="762.5" rx="4.0" ry="1.2" fill="#888" stroke="#333" stroke-width="0.8" />
<path d="M568.5,824.0 L570.0,842.0 A4.5,2 0 0 0 579.0,842.0 L580.5,824.0 Z" fill="#fff" stroke="#333" stroke-width="1"/><ellipse cx="574.5" cy="824.0" rx="6.0" ry="2.2" fill="#fff" stroke="#333" stroke-width="1.1" /><ellipse cx="574.5" cy="824.5" rx="4.2" ry="1.2" fill="#888" stroke="#333" stroke-width="0.8" />
<path d="M745.2,853.0 L746.8,871.0 A4.8,2 0 0 0 756.2,871.0 L757.8,853.0 Z" fill="#fff" stroke="#333" stroke-width="1"/><ellipse cx="751.5" cy="853.0" rx="6.2" ry="2.2" fill="#fff" stroke="#333" stroke-width="1.1" /><ellipse cx="751.5" cy="853.5" rx="4.5" ry="1.2" fill="#888" stroke="#333" stroke-width="0.8" />
<rect x="758" y="932" width="13" height="5" fill="#444"/>
<path d="M758.0,933.0 L759.5,952.0 A5.0,2 0 0 0 769.5,952.0 L771.0,933.0 Z" fill="#fff" stroke="#333" stroke-width="1"/><ellipse cx="764.5" cy="933.0" rx="6.5" ry="2.2" fill="#fff" stroke="#333" stroke-width="1.1" /><ellipse cx="764.5" cy="933.5" rx="4.7" ry="1.2" fill="#888" stroke="#333" stroke-width="0.8" />
<path d="M569,822 L581,822 L581,830 L569,830 Z" fill="#555"/>
<line x1="575" y1="812" x2="575" y2="822" stroke="#444" stroke-width="0.85" stroke-dasharray="2.4,1.7" fill="none"/>
<line x1="586" y1="776" x2="586" y2="781" stroke="#444" stroke-width="0.85" stroke-dasharray="2.4,1.7" fill="none"/>
<line x1="751.5" y1="871" x2="751.5" y2="880" stroke="#444" stroke-width="0.85" stroke-dasharray="2.4,1.7" fill="none"/>
<line x1="764" y1="915" x2="764" y2="932" stroke="#444" stroke-width="0.85" stroke-dasharray="2.4,1.7" fill="none"/>
<ellipse cx="598.5" cy="727.5" rx="6.5" ry="3.5" fill="#fff" stroke="#333" stroke-width="1.0" /><path d="M596,727 Q598,724 601,727" fill="none" stroke="#333" stroke-width="0.9"/>
<ellipse cx="598.5" cy="745.5" rx="8.0" ry="5.0" fill="#fff" stroke="#333" stroke-width="1.0" />
<line x1="598.5" y1="731" x2="598.5" y2="741" stroke="#444" stroke-width="0.85" stroke-dasharray="2.4,1.7" fill="none"/>
<line x1="598.5" y1="750" x2="598.5" y2="757" stroke="#444" stroke-width="0.85" stroke-dasharray="2.4,1.7" fill="none"/>
<g transform="translate(693.9,801.9) rotate(-29.17)"><rect x="0" y="-4.8" width="14.8" height="9.6" fill="#fff" stroke="#333" stroke-width="1.0"/><ellipse cx="0" cy="0" rx="2.9" ry="4.8" fill="#fff" stroke="#333" stroke-width="1.0"/></g>
<ellipse cx="721.3" cy="787.4" rx="4.6" ry="4.2" fill="#fff" stroke="#333" stroke-width="1.0" transform="rotate(-30 721.3 787.4)" /><ellipse cx="722.0" cy="786.5" rx="3.5" ry="3.0" fill="none" stroke="#333" stroke-width="0.8" transform="rotate(-30 722 786.5)" />
<line x1="663.2" y1="821.3" x2="693" y2="802" stroke="#444" stroke-width="0.85" stroke-dasharray="2.4,1.7" fill="none"/>
<line x1="707" y1="795" x2="717" y2="789.5" stroke="#444" stroke-width="0.85" stroke-dasharray="2.4,1.7" fill="none"/>
<g transform="translate(614.8,847.9) rotate(149.90)"><rect x="0" y="-2.7" width="21.7" height="5.4" fill="#fff" stroke="#333" stroke-width="1.0"/></g>
<ellipse cx="593.0" cy="860.8" rx="3.4" ry="4.6" fill="#fff" stroke="#333" stroke-width="1.0" transform="rotate(-30 593 860.8)" />
<line x1="615" y1="848" x2="640" y2="834" stroke="#444" stroke-width="0.85" stroke-dasharray="2.4,1.7" fill="none"/>
<ellipse cx="561.6" cy="808.4" rx="3.5" ry="1.6" fill="#fff" stroke="#333" stroke-width="1.1" transform="rotate(-30 561.6 808.4)" /><ellipse cx="778.5" cy="887.4" rx="3.5" ry="1.6" fill="#fff" stroke="#333" stroke-width="1.1" transform="rotate(-30 778.5 887.4)" />
<path d="M925.4,493.0 L932.0,485.7 L935.0,482.1 L972.0,479.1 L999.8,490.6 L1007.0,497.8 L1012.0,506.3 L1016.8,516.0 L1026.5,526.9 L1039.8,535.9 L1183.2,619.4 L1191.0,622.0 L1198.7,620.0 L1201.0,615.0 L1208.0,611.5 L1242.0,634.0 L1296.4,694.6 L1306.0,704.2 L1316.0,728.0 L1320.0,742.0 L1373.0,934.7 L1373.4,941.0 L1370.2,951.1 L1362.9,954.4 L1356.5,952.0 L1310.0,931.0 L1300.2,926.5 L1282.1,918.6 L1188.4,867.8 L1181.6,866.6 L1166.9,855.3 L1150.0,846.3 L1074.2,796.8 L1000.0,746.8 L995.8,741.9 L984.5,722.6 L978.9,712.9 L975.6,703.2 L974.8,693.5 L955.0,620.0 L942.4,575.2 L932.1,562.0 L930.9,545.0 L927.3,520.8 Z" fill="#fff" stroke="#2e2e2e" stroke-width="1.2" stroke-linejoin="round"/>
<path d="M929,492.4 L935,487.5 L967.2,485 L993.8,498 Q1004,505 1007,512 L1008.5,541" fill="none" stroke="#333" stroke-width="1.0" stroke-linejoin="round" />
<path d="M935,482.1 L935,487.5 M972,479.1 L967.2,485 M999.8,490.6 L993.8,498 M1007,497.8 L1004,505" fill="none" stroke="#333" stroke-width="1.0" stroke-linejoin="round" />
<path d="M930,496 L931.5,545" fill="none" stroke="#333" stroke-width="0.9" stroke-linejoin="round" />
<path d="M1008.5,542.6 L1017.5,582.6 L1026.5,603.2 L1043.3,660 L1047.7,685 L1054.7,726" fill="none" stroke="#3a3a3a" stroke-width="2.3" stroke-linejoin="round" stroke-dasharray="1.2,0.8"/>
<path d="M1007.5,542.6 L1016.5,582.6 L1025.5,603.2 L1042.3,660 L1046.7,685 L1053.7,726" fill="none" stroke="#333" stroke-width="0.8" stroke-linejoin="round" />
<path d="M1009,542.6 Q1015,549 1025.8,554.2 L1183.2,641.9 Q1190,642 1193.5,638 L1199,623" fill="none" stroke="#333" stroke-width="1.0" stroke-linejoin="round" />
<path d="M1029.7,561.9 L1169,640 Q1178,645 1186,644" fill="none" stroke="#333" stroke-width="0.9" stroke-linejoin="round" />
<path d="M1040,536.1 L1025.8,555.5 M1183.2,619.4 L1169,639.4" fill="none" stroke="#333" stroke-width="0.9" stroke-linejoin="round" />
<path d="M1017.5,561 L1024,558.5 L1029,566 L1023,569 Z" fill="#fff" stroke="#333" stroke-width="0.9" stroke-linejoin="round" />
<path d="M1045,610 L1050,609 L1052,622 L1047,623 Z" fill="#fff" stroke="#333" stroke-width="0.9" stroke-linejoin="round" />
<path d="M1047.3,597.7 Q1047,592 1052.1,592.1 L1146.5,644.5 Q1155,649 1157.7,657.4 L1176.3,728.4 Q1176,734 1167.4,734.8 L1077.1,683.2 Q1069,679 1065.8,668.7 Z M1053.7,600.2 L1143.2,649.4 Q1150,652 1152.9,657.4 L1169.8,726 Q1170,731 1166,729.5 L1079,678.5 Q1073,675 1071,668 Z" fill="#fff" stroke="#2e2e2e" stroke-width="1.2" stroke-linejoin="round" fill-rule="evenodd"/>
<path d="M1050.5,599 L1145,647 Q1153,651 1155.3,657.4 L1173,727.5 Q1172,732 1167,732.6 L1078,681 Q1071,677 1068.5,668.2 Z" fill="none" stroke="#666" stroke-width="2.0" stroke-linejoin="round" stroke-dasharray="1,1"/>
<path d="M1199.5,620 L1261,868" fill="none" stroke="#333" stroke-width="1.0" stroke-linejoin="round" />
<path d="M1203.5,621 L1266.5,868" fill="none" stroke="#333" stroke-width="1.0" stroke-linejoin="round" />
<path d="M1180,640 L1226.4,791.1" fill="none" stroke="#333" stroke-width="1.0" stroke-linejoin="round" />
<path d="M1189.6,643.6 L1217.5,782" fill="none" stroke="#333" stroke-width="1.0" stroke-linejoin="round" />
<path d="M1201,615 L1206,623 M1208,611.5 L1214,620" fill="none" stroke="#333" stroke-width="0.9" stroke-linejoin="round" />
<path d="M1214,620 L1286.6,697.6 Q1295,707 1300,712 L1308.7,743.4 L1361.2,933" fill="none" stroke="#333" stroke-width="1.0" stroke-linejoin="round" />
<path d="M1242,634 L1236,643 M1296.4,694.6 L1290,703" fill="none" stroke="#333" stroke-width="0.8" stroke-linejoin="round" />
<path d="M1320,741 L1372.6,932.6" fill="none" stroke="#333" stroke-width="1.1" stroke-linejoin="round" />
<path d="M1316.5,742 L1368,932" fill="none" stroke="#333" stroke-width="1.0" stroke-linejoin="round" />
<path d="M1318.2,741.5 L1370.3,932.3" fill="none" stroke="#3a3a3a" stroke-width="3.0" stroke-linejoin="round" stroke-dasharray="1.1,0.8"/>
<path d="M1307.3,740.8 L1359.7,930.2" fill="none" stroke="#333" stroke-width="1.0" stroke-linejoin="round" />
<path d="M1312.3,743.7 L1356.5,910" fill="none" stroke="#333" stroke-width="1.0" stroke-linejoin="round" />
<path d="M1361.2,933 Q1366,943 1363,948.3 M1353,936 Q1358,944 1355,947" fill="none" stroke="#333" stroke-width="1.0" stroke-linejoin="round" />
<path d="M1054.8,759.7 L1272,881.3" fill="none" stroke="#333" stroke-width="1.0" stroke-linejoin="round" />
<path d="M1054.8,762.5 L1271,884.2" fill="none" stroke="#333" stroke-width="1.0" stroke-linejoin="round" />
<path d="M1054.8,761.1 L1271.5,882.8" fill="none" stroke="#777" stroke-width="1.4" stroke-linejoin="round" stroke-dasharray="1,1"/>
<path d="M1272,881.3 L1283,918.6 M1275,881 L1287,921" fill="none" stroke="#333" stroke-width="1.0" stroke-linejoin="round" />
<path d="M1292.3,892.6 L1356.5,930.2 M1300,900.3 L1351.6,927" fill="none" stroke="#333" stroke-width="0.9" stroke-linejoin="round" />
<path d="M978.9,712.9 L1036.1,743.5 L1054.8,759.7" fill="none" stroke="#333" stroke-width="1.0" stroke-linejoin="round" />
<path d="M1000,724.2 L1035.5,743.5" fill="none" stroke="#333" stroke-width="0.9" stroke-linejoin="round" />
<path d="M984.5,722.6 Q990,740 1000.6,745.2" fill="none" stroke="#333" stroke-width="0.9" stroke-linejoin="round" />
<path d="M1310,931 L1356.5,952" fill="none" stroke="#333" stroke-width="0.9" stroke-linejoin="round" />
<ellipse cx="1364.5" cy="942.0" rx="7.5" ry="11.5" fill="none" stroke="#333" stroke-width="1.1" transform="rotate(-25 1364.5 942)" /><ellipse cx="1362.0" cy="941.0" rx="5.0" ry="9.0" fill="none" stroke="#333" stroke-width="0.9" transform="rotate(-25 1362 941)" />
<path d="M1369,932 Q1376,940 1372,950 Q1368,955 1363,954" fill="none" stroke="#333" stroke-width="2.6" stroke-linejoin="round" />
<path d="M1054.2,756.6 L1058,755.5 L1065.5,762.3 L1075.2,798.5 L1062.3,791.3 L1054.2,759 Z" fill="#fff" stroke="#333" stroke-width="1.1" stroke-linejoin="round" />
<path d="M1058,758 L1067.5,793 M1061,759 L1071,796" fill="none" stroke="#333" stroke-width="0.8" stroke-linejoin="round" />
<path d="M1030,740.5 Q1035,743 1038.9,753.4 L1046.1,779.2 L1048.5,781.6" fill="none" stroke="#333" stroke-width="1.0" stroke-linejoin="round" />
<path d="M1047.5,715 L1053,724 L1056,757" fill="none" stroke="#333" stroke-width="1.0" stroke-linejoin="round" />
<path d="M1280,870 L1283,900 L1290,915 M1290,873 L1295,905 L1300,918" fill="none" stroke="#333" stroke-width="0.9" stroke-linejoin="round" />
<path d="M1231,850 L1238,875 M1226,790 L1233,820 L1247,846 L1258,866" fill="none" stroke="#333" stroke-width="0.9" stroke-linejoin="round" />
<clipPath id="ribclip"><path d="M978.0,641.0 L1043.0,666.0 L1049.0,690.0 L1066.0,672.0 L1077.0,685.0 L1167.0,737.0 L1177.0,733.0 L1184.0,644.0 L1225.0,789.0 L1240.0,850.0 L1220.0,850.0 L1054.8,759.7 L1036.0,743.5 L978.9,712.9 L975.0,694.0 L1001.5,697.0 L1002.0,687.0 L988.4,680.6 L997.0,668.0 L983.5,661.0 L993.0,648.0 Z"/></clipPath>
<g clip-path="url(#ribclip)" stroke="#333" stroke-width="0.9"><line x1="970" y1="630.1" x2="1250" y2="778.5"/><line x1="970" y1="636.6" x2="1250" y2="785.0"/><line x1="970" y1="643.1" x2="1250" y2="791.5"/><line x1="970" y1="649.6" x2="1250" y2="798.0"/><line x1="970" y1="656.1" x2="1250" y2="804.5"/><line x1="970" y1="662.6" x2="1250" y2="811.0"/><line x1="970" y1="669.1" x2="1250" y2="817.5"/><line x1="970" y1="675.6" x2="1250" y2="824.0"/><line x1="970" y1="682.1" x2="1250" y2="830.5"/><line x1="970" y1="688.6" x2="1250" y2="837.0"/><line x1="970" y1="695.1" x2="1250" y2="843.5"/><line x1="970" y1="701.6" x2="1250" y2="850.0"/></g>
<path d="M978.7,643.5 Q990,642 993.2,648.4 Q986,654 983.5,661.3 Q994,661 997.3,667.7 Q990,674 988.4,680.6 Q999,681 1002,687 L1002,698.4" fill="none" stroke="#333" stroke-width="1.1" stroke-linejoin="round" />
<path d="M993.2,648.4 L994,660 M997.3,667.7 L998,680 M1002,687 L1002,698" fill="none" stroke="#333" stroke-width="0.8" stroke-linejoin="round" />
<path d="M1033.5,671 Q1043,675 1044.8,683.9 Q1040,686 1040,690.3 Q1048,696 1049.7,704.8 Q1044,706 1043.2,709.7 Q1051,716 1053,724.2" fill="none" stroke="#333" stroke-width="1.1" stroke-linejoin="round" />
<path d="M1034,672 L1034,684 M1040,691 L1040,703 M1043.5,710 L1044,721" fill="none" stroke="#333" stroke-width="0.8" stroke-linejoin="round" />
<clipPath id="ribclip2"><path d="M1253.0,799.0 L1310.0,831.0 L1332.0,884.0 L1275.0,858.0 Z"/></clipPath>
<g clip-path="url(#ribclip2)" stroke="#333" stroke-width="0.9"><line x1="1245" y1="791.2" x2="1345" y2="848.7"/><line x1="1245" y1="798.7" x2="1345" y2="856.2"/><line x1="1245" y1="806.2" x2="1345" y2="863.7"/><line x1="1245" y1="813.7" x2="1345" y2="871.2"/><line x1="1245" y1="821.2" x2="1345" y2="878.7"/><line x1="1245" y1="828.7" x2="1345" y2="886.2"/><line x1="1245" y1="836.2" x2="1345" y2="893.7"/><line x1="1245" y1="843.7" x2="1345" y2="901.2"/><line x1="1245" y1="851.2" x2="1345" y2="908.7"/></g>
<path d="M1266.0,802.0 Q1255.5,799.0 1251.0,804.2 Q1255.5,813.6 1266.0,817.0" fill="#fff" stroke="#333" stroke-width="1.0" stroke-linejoin="round" />
<path d="M1262.2,801.0 L1263.0,816.1" fill="none" stroke="#333" stroke-width="0.8" stroke-linejoin="round" />
<path d="M1271.0,820.0 Q1260.5,817.0 1256.0,822.2 Q1260.5,831.6 1271.0,835.0" fill="#fff" stroke="#333" stroke-width="1.0" stroke-linejoin="round" />
<path d="M1267.2,819.0 L1268.0,834.1" fill="none" stroke="#333" stroke-width="0.8" stroke-linejoin="round" />
<path d="M1275.0,839.6 Q1264.5,836.6 1260.0,841.9 Q1264.5,851.2 1275.0,854.6" fill="#fff" stroke="#333" stroke-width="1.0" stroke-linejoin="round" />
<path d="M1271.2,838.6 L1272.0,853.8" fill="none" stroke="#333" stroke-width="0.8" stroke-linejoin="round" />
<path d="M1309.7,832.0 Q1318.1,836.5 1320.2,844.8 Q1313.9,847.8 1309.7,842.5" fill="#fff" stroke="#333" stroke-width="1.0" stroke-linejoin="round" />
<path d="M1310.8,832.0 L1310.8,842.5" fill="none" stroke="#333" stroke-width="0.8" stroke-linejoin="round" />
<path d="M1313.2,849.0 Q1321.6,853.5 1323.7,861.8 Q1317.4,864.8 1313.2,859.5" fill="#fff" stroke="#333" stroke-width="1.0" stroke-linejoin="round" />
<path d="M1314.2,849.0 L1314.2,859.5" fill="none" stroke="#333" stroke-width="0.8" stroke-linejoin="round" />
<path d="M1318.5,867.5 Q1326.9,872.0 1329.0,880.2 Q1322.7,883.2 1318.5,878.0" fill="#fff" stroke="#333" stroke-width="1.0" stroke-linejoin="round" />
<path d="M1319.5,867.5 L1319.5,878.0" fill="none" stroke="#333" stroke-width="0.8" stroke-linejoin="round" />
<path d="M1263.5,866 L1354,910.3 M1266,873 L1350,914" fill="none" stroke="#333" stroke-width="0.9" stroke-linejoin="round" />
<g fill="#e4e4e4" stroke="#333" stroke-width="1.25"><ellipse cx="947.9" cy="503.0" rx="3.0" ry="1.45" transform="rotate(41 947.9 503.0)"/><ellipse cx="961.5" cy="503.4" rx="3.0" ry="1.45" transform="rotate(41 961.5 503.4)"/><ellipse cx="975.1" cy="503.9" rx="3.0" ry="1.45" transform="rotate(41 975.1 503.9)"/><ellipse cx="988.7" cy="504.4" rx="3.0" ry="1.45" transform="rotate(41 988.7 504.4)"/><ellipse cx="1002.3" cy="504.8" rx="3.0" ry="1.45" transform="rotate(41 1002.3 504.8)"/><ellipse cx="944.9" cy="508.5" rx="3.0" ry="1.45" transform="rotate(41 944.9 508.5)"/><ellipse cx="958.5" cy="508.9" rx="3.0" ry="1.45" transform="rotate(41 958.5 508.9)"/><ellipse cx="972.1" cy="509.4" rx="3.0" ry="1.45" transform="rotate(41 972.1 509.4)"/><ellipse cx="985.6" cy="509.9" rx="3.0" ry="1.45" transform="rotate(41 985.6 509.9)"/><ellipse cx="999.2" cy="510.3" rx="3.0" ry="1.45" transform="rotate(41 999.2 510.3)"/><ellipse cx="941.8" cy="514.0" rx="3.0" ry="1.45" transform="rotate(41 941.8 514.0)"/><ellipse cx="955.4" cy="514.5" rx="3.0" ry="1.45" transform="rotate(41 955.4 514.5)"/><ellipse cx="969.0" cy="514.9" rx="3.0" ry="1.45" transform="rotate(41 969.0 514.9)"/><ellipse cx="982.6" cy="515.4" rx="3.0" ry="1.45" transform="rotate(41 982.6 515.4)"/><ellipse cx="996.2" cy="515.8" rx="3.0" ry="1.45" transform="rotate(41 996.2 515.8)"/><ellipse cx="966.0" cy="520.4" rx="3.0" ry="1.45" transform="rotate(41 966.0 520.4)"/><ellipse cx="979.5" cy="520.9" rx="3.0" ry="1.45" transform="rotate(41 979.5 520.9)"/><ellipse cx="993.1" cy="521.3" rx="3.0" ry="1.45" transform="rotate(41 993.1 521.3)"/><ellipse cx="962.9" cy="525.9" rx="3.0" ry="1.45" transform="rotate(41 962.9 525.9)"/><ellipse cx="976.5" cy="526.4" rx="3.0" ry="1.45" transform="rotate(41 976.5 526.4)"/><ellipse cx="990.1" cy="526.8" rx="3.0" ry="1.45" transform="rotate(41 990.1 526.8)"/><ellipse cx="1003.7" cy="527.2" rx="3.0" ry="1.45" transform="rotate(41 1003.7 527.2)"/><ellipse cx="973.4" cy="531.9" rx="3.0" ry="1.45" transform="rotate(41 973.4 531.9)"/><ellipse cx="987.0" cy="532.3" rx="3.0" ry="1.45" transform="rotate(41 987.0 532.3)"/><ellipse cx="1000.6" cy="532.8" rx="3.0" ry="1.45" transform="rotate(41 1000.6 532.8)"/><ellipse cx="970.4" cy="537.4" rx="3.0" ry="1.45" transform="rotate(41 970.4 537.4)"/><ellipse cx="984.0" cy="537.8" rx="3.0" ry="1.45" transform="rotate(41 984.0 537.8)"/><ellipse cx="997.6" cy="538.2" rx="3.0" ry="1.45" transform="rotate(41 997.6 538.2)"/><ellipse cx="980.9" cy="543.3" rx="3.0" ry="1.45" transform="rotate(41 980.9 543.3)"/><ellipse cx="994.5" cy="543.8" rx="3.0" ry="1.45" transform="rotate(41 994.5 543.8)"/><ellipse cx="977.9" cy="548.8" rx="3.0" ry="1.45" transform="rotate(41 977.9 548.8)"/><ellipse cx="991.5" cy="549.2" rx="3.0" ry="1.45" transform="rotate(41 991.5 549.2)"/><ellipse cx="1005.1" cy="549.7" rx="3.0" ry="1.45" transform="rotate(41 1005.1 549.7)"/><ellipse cx="1002.0" cy="555.2" rx="3.0" ry="1.45" transform="rotate(41 1002.0 555.2)"/><ellipse cx="982.4" cy="565.8" rx="3.0" ry="1.45" transform="rotate(41 982.4 565.8)"/><ellipse cx="986.8" cy="582.7" rx="3.0" ry="1.45" transform="rotate(41 986.8 582.7)"/><ellipse cx="1000.4" cy="583.1" rx="3.0" ry="1.45" transform="rotate(41 1000.4 583.1)"/><ellipse cx="983.8" cy="588.2" rx="3.0" ry="1.45" transform="rotate(41 983.8 588.2)"/><ellipse cx="997.4" cy="588.6" rx="3.0" ry="1.45" transform="rotate(41 997.4 588.6)"/><ellipse cx="1010.9" cy="589.1" rx="3.0" ry="1.45" transform="rotate(41 1010.9 589.1)"/><ellipse cx="980.7" cy="593.7" rx="3.0" ry="1.45" transform="rotate(41 980.7 593.7)"/><ellipse cx="994.3" cy="594.1" rx="3.0" ry="1.45" transform="rotate(41 994.3 594.1)"/><ellipse cx="1007.9" cy="594.6" rx="3.0" ry="1.45" transform="rotate(41 1007.9 594.6)"/><ellipse cx="991.2" cy="599.6" rx="3.0" ry="1.45" transform="rotate(41 991.2 599.6)"/><ellipse cx="1004.8" cy="600.1" rx="3.0" ry="1.45" transform="rotate(41 1004.8 600.1)"/><ellipse cx="1018.4" cy="600.5" rx="3.0" ry="1.45" transform="rotate(41 1018.4 600.5)"/><ellipse cx="1001.8" cy="605.6" rx="3.0" ry="1.45" transform="rotate(41 1001.8 605.6)"/><ellipse cx="1015.4" cy="606.0" rx="3.0" ry="1.45" transform="rotate(41 1015.4 606.0)"/><ellipse cx="998.7" cy="611.1" rx="3.0" ry="1.45" transform="rotate(41 998.7 611.1)"/><ellipse cx="1012.3" cy="611.5" rx="3.0" ry="1.45" transform="rotate(41 1012.3 611.5)"/><ellipse cx="995.7" cy="616.6" rx="3.0" ry="1.45" transform="rotate(41 995.7 616.6)"/><ellipse cx="1009.3" cy="617.0" rx="3.0" ry="1.45" transform="rotate(41 1009.3 617.0)"/><ellipse cx="1022.9" cy="617.5" rx="3.0" ry="1.45" transform="rotate(41 1022.9 617.5)"/><ellipse cx="1006.2" cy="622.5" rx="3.0" ry="1.45" transform="rotate(41 1006.2 622.5)"/><ellipse cx="1019.9" cy="623.0" rx="3.0" ry="1.45" transform="rotate(41 1019.9 623.0)"/><ellipse cx="1003.2" cy="628.0" rx="3.0" ry="1.45" transform="rotate(41 1003.2 628.0)"/><ellipse cx="1016.8" cy="628.5" rx="3.0" ry="1.45" transform="rotate(41 1016.8 628.5)"/><ellipse cx="1013.8" cy="634.0" rx="3.0" ry="1.45" transform="rotate(41 1013.8 634.0)"/><ellipse cx="1027.3" cy="634.5" rx="3.0" ry="1.45" transform="rotate(41 1027.3 634.5)"/><ellipse cx="1024.3" cy="640.0" rx="3.0" ry="1.45" transform="rotate(41 1024.3 640.0)"/><ellipse cx="1021.2" cy="645.5" rx="3.0" ry="1.45" transform="rotate(41 1021.2 645.5)"/></g>
<g fill="#e4e4e4" stroke="#333" stroke-width="1.25"><ellipse cx="1211.9" cy="641.4" rx="3.0" ry="1.45" transform="rotate(41 1211.9 641.4)"/><ellipse cx="1222.5" cy="647.3" rx="3.0" ry="1.45" transform="rotate(41 1222.5 647.3)"/><ellipse cx="1219.4" cy="652.8" rx="3.0" ry="1.45" transform="rotate(41 1219.4 652.8)"/><ellipse cx="1233.0" cy="653.3" rx="3.0" ry="1.45" transform="rotate(41 1233.0 653.3)"/><ellipse cx="1216.4" cy="658.3" rx="3.0" ry="1.45" transform="rotate(41 1216.4 658.3)"/><ellipse cx="1230.0" cy="658.8" rx="3.0" ry="1.45" transform="rotate(41 1230.0 658.8)"/><ellipse cx="1226.9" cy="664.3" rx="3.0" ry="1.45" transform="rotate(41 1226.9 664.3)"/><ellipse cx="1240.5" cy="664.8" rx="3.0" ry="1.45" transform="rotate(41 1240.5 664.8)"/><ellipse cx="1223.8" cy="669.8" rx="3.0" ry="1.45" transform="rotate(41 1223.8 669.8)"/><ellipse cx="1237.4" cy="670.2" rx="3.0" ry="1.45" transform="rotate(41 1237.4 670.2)"/><ellipse cx="1251.0" cy="670.7" rx="3.0" ry="1.45" transform="rotate(41 1251.0 670.7)"/><ellipse cx="1220.8" cy="675.3" rx="3.0" ry="1.45" transform="rotate(41 1220.8 675.3)"/><ellipse cx="1234.4" cy="675.8" rx="3.0" ry="1.45" transform="rotate(41 1234.4 675.8)"/><ellipse cx="1248.0" cy="676.2" rx="3.0" ry="1.45" transform="rotate(41 1248.0 676.2)"/><ellipse cx="1231.3" cy="681.2" rx="3.0" ry="1.45" transform="rotate(41 1231.3 681.2)"/><ellipse cx="1245.0" cy="681.7" rx="3.0" ry="1.45" transform="rotate(41 1245.0 681.7)"/><ellipse cx="1258.5" cy="682.1" rx="3.0" ry="1.45" transform="rotate(41 1258.5 682.1)"/><ellipse cx="1228.3" cy="686.8" rx="3.0" ry="1.45" transform="rotate(41 1228.3 686.8)"/><ellipse cx="1241.9" cy="687.2" rx="3.0" ry="1.45" transform="rotate(41 1241.9 687.2)"/><ellipse cx="1255.5" cy="687.6" rx="3.0" ry="1.45" transform="rotate(41 1255.5 687.6)"/><ellipse cx="1225.2" cy="692.2" rx="3.0" ry="1.45" transform="rotate(41 1225.2 692.2)"/><ellipse cx="1238.9" cy="692.7" rx="3.0" ry="1.45" transform="rotate(41 1238.9 692.7)"/><ellipse cx="1252.5" cy="693.1" rx="3.0" ry="1.45" transform="rotate(41 1252.5 693.1)"/><ellipse cx="1266.1" cy="693.6" rx="3.0" ry="1.45" transform="rotate(41 1266.1 693.6)"/><ellipse cx="1235.8" cy="698.2" rx="3.0" ry="1.45" transform="rotate(41 1235.8 698.2)"/><ellipse cx="1249.4" cy="698.6" rx="3.0" ry="1.45" transform="rotate(41 1249.4 698.6)"/><ellipse cx="1263.0" cy="699.1" rx="3.0" ry="1.45" transform="rotate(41 1263.0 699.1)"/><ellipse cx="1276.6" cy="699.5" rx="3.0" ry="1.45" transform="rotate(41 1276.6 699.5)"/><ellipse cx="1232.8" cy="703.7" rx="3.0" ry="1.45" transform="rotate(41 1232.8 703.7)"/><ellipse cx="1246.3" cy="704.1" rx="3.0" ry="1.45" transform="rotate(41 1246.3 704.1)"/><ellipse cx="1260.0" cy="704.6" rx="3.0" ry="1.45" transform="rotate(41 1260.0 704.6)"/><ellipse cx="1273.5" cy="705.0" rx="3.0" ry="1.45" transform="rotate(41 1273.5 705.0)"/><ellipse cx="1243.3" cy="709.6" rx="3.0" ry="1.45" transform="rotate(41 1243.3 709.6)"/><ellipse cx="1256.9" cy="710.1" rx="3.0" ry="1.45" transform="rotate(41 1256.9 710.1)"/><ellipse cx="1270.5" cy="710.5" rx="3.0" ry="1.45" transform="rotate(41 1270.5 710.5)"/><ellipse cx="1284.1" cy="711.0" rx="3.0" ry="1.45" transform="rotate(41 1284.1 711.0)"/><ellipse cx="1253.9" cy="715.6" rx="3.0" ry="1.45" transform="rotate(41 1253.9 715.6)"/><ellipse cx="1267.5" cy="716.0" rx="3.0" ry="1.45" transform="rotate(41 1267.5 716.0)"/><ellipse cx="1281.0" cy="716.5" rx="3.0" ry="1.45" transform="rotate(41 1281.0 716.5)"/><ellipse cx="1250.8" cy="721.1" rx="3.0" ry="1.45" transform="rotate(41 1250.8 721.1)"/><ellipse cx="1264.4" cy="721.5" rx="3.0" ry="1.45" transform="rotate(41 1264.4 721.5)"/><ellipse cx="1278.0" cy="722.0" rx="3.0" ry="1.45" transform="rotate(41 1278.0 722.0)"/><ellipse cx="1291.6" cy="722.4" rx="3.0" ry="1.45" transform="rotate(41 1291.6 722.4)"/><ellipse cx="1247.8" cy="726.6" rx="3.0" ry="1.45" transform="rotate(41 1247.8 726.6)"/><ellipse cx="1261.3" cy="727.0" rx="3.0" ry="1.45" transform="rotate(41 1261.3 727.0)"/><ellipse cx="1274.9" cy="727.5" rx="3.0" ry="1.45" transform="rotate(41 1274.9 727.5)"/><ellipse cx="1288.5" cy="727.9" rx="3.0" ry="1.45" transform="rotate(41 1288.5 727.9)"/><ellipse cx="1258.3" cy="732.5" rx="3.0" ry="1.45" transform="rotate(41 1258.3 732.5)"/><ellipse cx="1271.9" cy="733.0" rx="3.0" ry="1.45" transform="rotate(41 1271.9 733.0)"/><ellipse cx="1285.5" cy="733.4" rx="3.0" ry="1.45" transform="rotate(41 1285.5 733.4)"/><ellipse cx="1299.1" cy="733.9" rx="3.0" ry="1.45" transform="rotate(41 1299.1 733.9)"/><ellipse cx="1255.2" cy="738.0" rx="3.0" ry="1.45" transform="rotate(41 1255.2 738.0)"/><ellipse cx="1268.8" cy="738.5" rx="3.0" ry="1.45" transform="rotate(41 1268.8 738.5)"/><ellipse cx="1282.5" cy="738.9" rx="3.0" ry="1.45" transform="rotate(41 1282.5 738.9)"/><ellipse cx="1296.0" cy="739.4" rx="3.0" ry="1.45" transform="rotate(41 1296.0 739.4)"/><ellipse cx="1252.2" cy="743.5" rx="3.0" ry="1.45" transform="rotate(41 1252.2 743.5)"/><ellipse cx="1265.8" cy="744.0" rx="3.0" ry="1.45" transform="rotate(41 1265.8 744.0)"/><ellipse cx="1279.4" cy="744.4" rx="3.0" ry="1.45" transform="rotate(41 1279.4 744.4)"/><ellipse cx="1293.0" cy="744.9" rx="3.0" ry="1.45" transform="rotate(41 1293.0 744.9)"/><ellipse cx="1249.2" cy="749.0" rx="3.0" ry="1.45" transform="rotate(41 1249.2 749.0)"/><ellipse cx="1262.8" cy="749.5" rx="3.0" ry="1.45" transform="rotate(41 1262.8 749.5)"/><ellipse cx="1276.4" cy="749.9" rx="3.0" ry="1.45" transform="rotate(41 1276.4 749.9)"/><ellipse cx="1290.0" cy="750.4" rx="3.0" ry="1.45" transform="rotate(41 1290.0 750.4)"/><ellipse cx="1246.1" cy="754.5" rx="3.0" ry="1.45" transform="rotate(41 1246.1 754.5)"/><ellipse cx="1259.7" cy="755.0" rx="3.0" ry="1.45" transform="rotate(41 1259.7 755.0)"/><ellipse cx="1273.3" cy="755.4" rx="3.0" ry="1.45" transform="rotate(41 1273.3 755.4)"/><ellipse cx="1286.9" cy="755.9" rx="3.0" ry="1.45" transform="rotate(41 1286.9 755.9)"/><ellipse cx="1300.5" cy="756.3" rx="3.0" ry="1.45" transform="rotate(41 1300.5 756.3)"/><ellipse cx="1256.6" cy="760.5" rx="3.0" ry="1.45" transform="rotate(41 1256.6 760.5)"/><ellipse cx="1270.2" cy="760.9" rx="3.0" ry="1.45" transform="rotate(41 1270.2 760.9)"/><ellipse cx="1283.8" cy="761.4" rx="3.0" ry="1.45" transform="rotate(41 1283.8 761.4)"/><ellipse cx="1297.5" cy="761.8" rx="3.0" ry="1.45" transform="rotate(41 1297.5 761.8)"/><ellipse cx="1253.6" cy="766.0" rx="3.0" ry="1.45" transform="rotate(41 1253.6 766.0)"/><ellipse cx="1267.2" cy="766.4" rx="3.0" ry="1.45" transform="rotate(41 1267.2 766.4)"/><ellipse cx="1280.8" cy="766.9" rx="3.0" ry="1.45" transform="rotate(41 1280.8 766.9)"/><ellipse cx="1294.4" cy="767.3" rx="3.0" ry="1.45" transform="rotate(41 1294.4 767.3)"/><ellipse cx="1250.5" cy="771.5" rx="3.0" ry="1.45" transform="rotate(41 1250.5 771.5)"/><ellipse cx="1264.2" cy="771.9" rx="3.0" ry="1.45" transform="rotate(41 1264.2 771.9)"/><ellipse cx="1277.8" cy="772.4" rx="3.0" ry="1.45" transform="rotate(41 1277.8 772.4)"/><ellipse cx="1291.4" cy="772.8" rx="3.0" ry="1.45" transform="rotate(41 1291.4 772.8)"/><ellipse cx="1305.0" cy="773.3" rx="3.0" ry="1.45" transform="rotate(41 1305.0 773.3)"/><ellipse cx="1261.1" cy="777.4" rx="3.0" ry="1.45" transform="rotate(41 1261.1 777.4)"/><ellipse cx="1274.7" cy="777.9" rx="3.0" ry="1.45" transform="rotate(41 1274.7 777.9)"/><ellipse cx="1288.3" cy="778.3" rx="3.0" ry="1.45" transform="rotate(41 1288.3 778.3)"/><ellipse cx="1301.9" cy="778.8" rx="3.0" ry="1.45" transform="rotate(41 1301.9 778.8)"/><ellipse cx="1271.6" cy="783.4" rx="3.0" ry="1.45" transform="rotate(41 1271.6 783.4)"/><ellipse cx="1285.2" cy="783.8" rx="3.0" ry="1.45" transform="rotate(41 1285.2 783.8)"/><ellipse cx="1298.8" cy="784.3" rx="3.0" ry="1.45" transform="rotate(41 1298.8 784.3)"/><ellipse cx="1268.6" cy="788.9" rx="3.0" ry="1.45" transform="rotate(41 1268.6 788.9)"/><ellipse cx="1282.2" cy="789.3" rx="3.0" ry="1.45" transform="rotate(41 1282.2 789.3)"/><ellipse cx="1295.8" cy="789.8" rx="3.0" ry="1.45" transform="rotate(41 1295.8 789.8)"/><ellipse cx="1309.4" cy="790.2" rx="3.0" ry="1.45" transform="rotate(41 1309.4 790.2)"/><ellipse cx="1279.2" cy="794.8" rx="3.0" ry="1.45" transform="rotate(41 1279.2 794.8)"/><ellipse cx="1292.8" cy="795.3" rx="3.0" ry="1.45" transform="rotate(41 1292.8 795.3)"/><ellipse cx="1306.3" cy="795.8" rx="3.0" ry="1.45" transform="rotate(41 1306.3 795.8)"/><ellipse cx="1289.7" cy="800.8" rx="3.0" ry="1.45" transform="rotate(41 1289.7 800.8)"/><ellipse cx="1303.3" cy="801.2" rx="3.0" ry="1.45" transform="rotate(41 1303.3 801.2)"/><ellipse cx="1300.2" cy="806.8" rx="3.0" ry="1.45" transform="rotate(41 1300.2 806.8)"/><ellipse cx="1313.9" cy="807.2" rx="3.0" ry="1.45" transform="rotate(41 1313.9 807.2)"/><ellipse cx="1310.8" cy="812.7" rx="3.0" ry="1.45" transform="rotate(41 1310.8 812.7)"/></g>
<path d="M1225,712 Q1230,707 1237,713 Q1243,720 1246,740 Q1246,748 1240,746 Q1232,742 1229,732 Z" fill="#fff" stroke="#333" stroke-width="1.0" stroke-linejoin="round" />
<path d="M1225.5,713 L1230,733" fill="none" stroke="#444" stroke-width="2.0" stroke-linejoin="round" stroke-dasharray="1,0.8"/>
<path d="M983,551 L1013,565 Q1017,568 1017,572 L1018,585 Q1016,590 1012,587 L987,575 Q984,572 984,568 Z" fill="#fff" stroke="#333" stroke-width="1.0" stroke-linejoin="round" />
<path d="M939,536 Q938,526 943,524 Q950,523 956,530 L964.5,541.7 L972.4,553.4" fill="none" stroke="#333" stroke-width="1.0" stroke-linejoin="round" />
<path d="M941.5,537 Q941,529 944.5,528 Q950,528 955,535 L962,545" fill="none" stroke="#333" stroke-width="0.9" stroke-linejoin="round" />
<path d="M944,531 L948,526 M947,535 L952,529 M940.5,533 L945,532" fill="none" stroke="#333" stroke-width="0.8" stroke-linejoin="round" />
<path d="M946.7,543 L953,541.7 L955,549 L949,550.6 Z" fill="#444"/>
<ellipse cx="966.0" cy="548.0" rx="6.5" ry="5.0" fill="#fff" stroke="#333" stroke-width="1.1" transform="rotate(35 966 548)" /><ellipse cx="966.0" cy="548.0" rx="3.8" ry="2.6" fill="#fff" stroke="#333" stroke-width="0.9" transform="rotate(35 966 548)" />
<path d="M952.2,552 L960.4,578.1 M958.3,552 L965.9,579.4 M963,552 L974,583.5 M968.6,553.4 L976.8,590.4" fill="none" stroke="#333" stroke-width="0.9" stroke-linejoin="round" />
<path d="M960.4,578.1 L965.9,579.4 L974,583.5 L975.5,593.8 Z" fill="#fff" stroke="#333" stroke-width="0.9" stroke-linejoin="round" />
<path d="M933,563 L975.5,592.4 M942.6,574.6 L974,591.8" fill="none" stroke="#333" stroke-width="1.0" stroke-linejoin="round" />
<path d="M937.5,568.5 L974.8,592" fill="none" stroke="#555" stroke-width="2.4" stroke-linejoin="round" stroke-dasharray="1,1"/>
<path d="M931,541 L940,539.5 L946,545 L946,561.6 L940.5,561.6 L931,556" fill="#fff" stroke="#333" stroke-width="1.0" stroke-linejoin="round" />
<path d="M932,545 L945,550 M932,549 L945,554 M932,553 L943,557" fill="none" stroke="#333" stroke-width="0.8" stroke-linejoin="round" />
<path d="M940.5,555.4 L946,556 L946,561.6 L940.5,561.6 Z" fill="#fff" stroke="#333" stroke-width="1.0" stroke-linejoin="round" />
<path d="M967,602 L975,600 L979,611 L971,615 Z M969,617 L977,616 L980,628 L972,630 Z" fill="#fff" stroke="#333" stroke-width="0.9" stroke-linejoin="round" />
<path d="M1020,610 L1022,630" fill="none" stroke="#555" stroke-width="2" stroke-linejoin="round" stroke-dasharray="1,1"/>
<path d="M1055.4,698.4 L1074.6,708 L1073.8,712.8 L1054.6,703 Z M1191.8,776.5 L1211,786.5 L1210.2,791.6 L1191,781.5 Z" fill="#fff" stroke="#333" stroke-width="1.0" stroke-linejoin="round" />
<path d="M1140,787 L1175,808" fill="none" stroke="#444" stroke-width="2.6" stroke-linejoin="round" stroke-dasharray="1.1,0.9"/>
<path d="M1194,697 L1208,756" fill="none" stroke="#444" stroke-width="2.4" stroke-linejoin="round" stroke-dasharray="1.1,0.9"/>
<path d="M1037,675 L1046,672 L1052,690 L1049,705 L1054,724 L1050,727 L1044,708 L1040,693 Z" fill="#fff" stroke="#333" stroke-width="1.0" stroke-linejoin="round" />
<path d="M1093.2,711.3 L1083.5,740.3 Q1084,746 1091.6,751.6 L1096,748 L1119.5,780 L1122.3,777.4 L1098,713 Z" fill="#fff" stroke="#333" stroke-width="1.1" stroke-linejoin="round" />
<path d="M1096,722 L1117,776 M1088,742 L1095,728" fill="none" stroke="#333" stroke-width="0.8" stroke-linejoin="round" />
<path d="M1107.7,733 Q1117,730 1121,736 L1119,742 Q1126,745 1127,752 L1125,757 Q1131,760 1130.3,767.7 L1126,768" fill="none" stroke="#333" stroke-width="1.0" stroke-linejoin="round" />
<path d="M1123,742 L1124,757 M1129,760 L1129,768" fill="none" stroke="#333" stroke-width="0.8" stroke-linejoin="round" />
<path d="M1168.5,756 L1172,754.5 L1175.3,770 L1172,785 L1174,791.6 L1170,791 L1167,770 Z" fill="#fff" stroke="#333" stroke-width="1.0" stroke-linejoin="round" />
<circle cx="1058.8" cy="719" r="2.2" fill="#333"/><circle cx="1171.2" cy="798.5" r="1.8" fill="#333"/><circle cx="1206.2" cy="804" r="2.2" fill="#555"/>
<path d="M1054.2,756.6 L1058,755.5 L1065.5,762.3 L1075.2,798.5 L1062.3,791.3 L1054.2,759 Z" fill="#fff" stroke="#333" stroke-width="1.1" stroke-linejoin="round" />
<path d="M1058,758 L1067.5,793 M1061,759 L1071,796" fill="none" stroke="#333" stroke-width="0.8" stroke-linejoin="round" />
<path d="M1030,740.5 Q1035,743 1038.9,753.4 L1046.1,779.2 L1048.5,781.6" fill="none" stroke="#333" stroke-width="1.0" stroke-linejoin="round" />
<path d="M1047.5,715 L1053,724 L1056,757" fill="none" stroke="#333" stroke-width="1.0" stroke-linejoin="round" />
<path d="M1280,870 L1283,900 L1290,915 M1290,873 L1295,905 L1300,918" fill="none" stroke="#333" stroke-width="0.9" stroke-linejoin="round" />
<path d="M1231,850 L1238,875" fill="none" stroke="#333" stroke-width="0.9" stroke-linejoin="round" />
<path d="M1212,783 L1224,790 L1226,806 L1222,820 L1214,823 L1210,814 L1214,800 Z" fill="#fff" stroke="#333" stroke-width="1.0" stroke-linejoin="round" />
<path d="M1214,823 L1226,834 L1247,846 L1258,866" fill="none" stroke="#333" stroke-width="1.0" stroke-linejoin="round" />
<line x1="1272" y1="213" x2="1310" y2="228" stroke="#444" stroke-width="0.85" stroke-dasharray="2.4,1.7" fill="none"/>
<line x1="1310" y1="228" x2="1345" y2="250" stroke="#444" stroke-width="0.85" stroke-dasharray="2.4,1.7" fill="none"/>
<line x1="1204.5" y1="300.3" x2="1241.3" y2="320.2" stroke="#444" stroke-width="0.85" stroke-dasharray="2.4,1.7" fill="none"/>
<line x1="1215.2" y1="337.8" x2="1250" y2="352" stroke="#444" stroke-width="0.85" stroke-dasharray="2.4,1.7" fill="none"/>
<line x1="1234" y1="349" x2="1280" y2="372" stroke="#444" stroke-width="0.85" stroke-dasharray="2.4,1.7" fill="none"/>
<line x1="1265" y1="320" x2="1285" y2="336" stroke="#444" stroke-width="0.85" stroke-dasharray="2.4,1.7" fill="none"/>
<line x1="1295" y1="340" x2="1335" y2="365" stroke="#444" stroke-width="0.85" stroke-dasharray="2.4,1.7" fill="none"/>
<line x1="1340" y1="366" x2="1300" y2="396" stroke="#444" stroke-width="0.85" stroke-dasharray="2.4,1.7" fill="none"/>
<line x1="1300" y1="396" x2="1262" y2="432" stroke="#444" stroke-width="0.85" stroke-dasharray="2.4,1.7" fill="none"/>
<line x1="1262" y1="432" x2="1225" y2="465" stroke="#444" stroke-width="0.85" stroke-dasharray="2.4,1.7" fill="none"/>
<line x1="1230" y1="360" x2="1272" y2="382" stroke="#444" stroke-width="0.85" stroke-dasharray="2.4,1.7" fill="none"/>
<line x1="1235.5" y1="399.7" x2="1250" y2="406" stroke="#444" stroke-width="0.85" stroke-dasharray="2.4,1.7" fill="none"/>
<line x1="1247" y1="442.3" x2="1262" y2="450" stroke="#444" stroke-width="0.85" stroke-dasharray="2.4,1.7" fill="none"/>
<line x1="1262" y1="454" x2="1310" y2="477" stroke="#444" stroke-width="0.85" stroke-dasharray="2.4,1.7" fill="none"/>
<line x1="1316" y1="406" x2="1336" y2="408" stroke="#444" stroke-width="0.85" stroke-dasharray="2.4,1.7" fill="none"/>
<line x1="1433" y1="432" x2="1463" y2="455" stroke="#444" stroke-width="0.85" stroke-dasharray="2.4,1.7" fill="none"/>
<line x1="1463" y1="455" x2="1505" y2="478" stroke="#444" stroke-width="0.85" stroke-dasharray="2.4,1.7" fill="none"/>
<line x1="1504.8" y1="446.8" x2="1490" y2="462" stroke="#444" stroke-width="0.85" stroke-dasharray="2.4,1.7" fill="none"/>
<line x1="1543" y1="498" x2="1558" y2="505" stroke="#444" stroke-width="0.85" stroke-dasharray="2.4,1.7" fill="none"/>
<line x1="1505" y1="500" x2="1540" y2="518" stroke="#444" stroke-width="0.85" stroke-dasharray="2.4,1.7" fill="none"/>
<line x1="1548" y1="523" x2="1562" y2="535" stroke="#444" stroke-width="0.85" stroke-dasharray="2.4,1.7" fill="none"/>
<line x1="1540" y1="363" x2="1592" y2="394" stroke="#444" stroke-width="0.85" stroke-dasharray="2.4,1.7" fill="none"/>
<line x1="1540" y1="370" x2="1508" y2="380" stroke="#444" stroke-width="0.85" stroke-dasharray="2.4,1.7" fill="none"/>
<line x1="1484" y1="565" x2="1437" y2="540" stroke="#444" stroke-width="0.85" stroke-dasharray="2.4,1.7" fill="none"/>
<line x1="1407" y1="495" x2="1425" y2="505" stroke="#444" stroke-width="0.85" stroke-dasharray="2.4,1.7" fill="none"/>
<line x1="1418" y1="537" x2="1431" y2="545" stroke="#444" stroke-width="0.85" stroke-dasharray="2.4,1.7" fill="none"/>
<line x1="1527" y1="372" x2="1500" y2="382" stroke="#444" stroke-width="0.85" stroke-dasharray="2.4,1.7" fill="none"/>
<line x1="1462" y1="535" x2="1447" y2="552" stroke="#444" stroke-width="0.85" stroke-dasharray="2.4,1.7" fill="none"/>
<line x1="1447" y1="552" x2="1400" y2="600" stroke="#444" stroke-width="0.85" stroke-dasharray="2.4,1.7" fill="none"/>
<line x1="1400" y1="600" x2="1350" y2="640" stroke="#444" stroke-width="0.85" stroke-dasharray="2.4,1.7" fill="none"/>
<path d="M1275.8,214.5 L1287.2,210.7 L1289.5,213 L1289.5,226 L1293.4,222.9 L1297.2,209.9 L1301,206.9 L1305.6,205.3 L1310.2,210 L1310.2,228.3 L1285.7,349.3 Q1280,362 1270,370 L1256.6,378.4 L1239,323.3 L1241.3,320.2 L1263.5,303.4 L1265.8,289.6 L1261.2,281.9 L1268.9,275.8 L1271.9,255.9 L1288.8,243.6 L1287.2,236 L1280,237 L1273.5,239 Z" fill="#fff" stroke="#333" stroke-width="1.1" stroke-linejoin="round" />
<path d="M1271.9,349.3 L1278,265 L1298,249.8 L1301,254.3 L1284.2,344.7 Q1280,352 1271.9,349.3 Z" fill="#fff" stroke="#333" stroke-width="1.0" stroke-linejoin="round" />
<path d="M1274.5,346 L1280,267 L1297,253 L1283,343" fill="none" stroke="#555" stroke-width="1.6" stroke-linejoin="round" stroke-dasharray="1,1"/>
<path d="M1249,327.9 L1265,315.6 L1266,318 L1250,330.5 Z" fill="#fff" stroke="#333" stroke-width="0.9" stroke-linejoin="round" />
<ellipse cx="1283.4" cy="221.4" rx="2.2" ry="2.4" fill="#fff" stroke="#333" stroke-width="0.9" />
<ellipse cx="1280.4" cy="234.4" rx="1.3" ry="1.4" fill="#fff" stroke="#333" stroke-width="0.9" />
<ellipse cx="1293.4" cy="241.3" rx="1.3" ry="1.4" fill="#fff" stroke="#333" stroke-width="0.9" />
<ellipse cx="1265.0" cy="281.9" rx="1.8" ry="2.0" fill="#fff" stroke="#333" stroke-width="0.9" />
<ellipse cx="1261.2" cy="363.1" rx="2.6" ry="4.0" fill="#fff" stroke="#333" stroke-width="0.9" transform="rotate(30 1261.2 363.1)" />
<path d="M1298.9,209.4 L1306.1,205.3 L1346.5,199.7 Q1351,199 1350.5,203 L1349.7,209.4 Q1347,216 1344.8,219 L1312.6,228.7 L1310.2,229.5 Z" fill="#fff" stroke="#333" stroke-width="1.0" stroke-linejoin="round" />
<path d="M1306.1,205.3 L1312.6,228.7" fill="none" stroke="#555" stroke-width="2.4" stroke-linejoin="round" stroke-dasharray="1,1"/>
<path d="M1337,254 Q1352,222 1377,206 Q1384,203 1387.5,206 Q1388,210 1383,215 Q1368,232 1359,250 Q1363,249 1366.5,251.5 Q1368,255 1365,257.5 L1357,257 L1351,261 L1344,268 Q1343,276 1336,278 Q1330,278.5 1330,273.5 Q1331,268 1338,266 Z" fill="#fff" stroke="#333" stroke-width="1.0" stroke-linejoin="round" />
<path d="M1340,253 Q1356,224 1380,207" fill="none" stroke="#333" stroke-width="0.8" stroke-linejoin="round" />
<ellipse cx="1336.0" cy="272.5" rx="2.0" ry="1.6" fill="#fff" stroke="#333" stroke-width="0.8" />
<g transform="translate(1350.5,260.5) rotate(30.6)"><rect x="0" y="-2.9" width="197" height="5.8" fill="#fff" stroke="#333" stroke-width="1"/><ellipse cx="0" cy="0" rx="1.8" ry="2.9" fill="#fff" stroke="#333" stroke-width="1"/></g>
<path d="M1326.3,290 L1334.5,289 L1333,315 Q1330,320 1327.5,315 Z" fill="#3a3a3a" stroke="#333" stroke-width="1"/>
<path d="M1331.5,290 L1332,286.5 L1335.5,286 L1335.5,291" fill="none" stroke="#333" stroke-width="1"/>
<ellipse cx="1328.7" cy="317.5" rx="1.6" ry="1.6" fill="#fff" stroke="#333" stroke-width="0.9" />
<g transform="translate(1203.0,298.8) rotate(-146.02)"><rect x="0" y="-2.0" width="11.1" height="4.0" fill="#fff" stroke="#333" stroke-width="1.0"/><ellipse cx="0" cy="0" rx="1.2" ry="2.0" fill="#fff" stroke="#333" stroke-width="1.0"/></g>
<g transform="translate(1193.8,292.6) rotate(34.0)"><ellipse cx="1" cy="0" rx="2.0" ry="4.6" fill="#fff" stroke="#333" stroke-width="1"/><path d="M-3,-3.5 L1,-3.5 L1,3.5 L-3,3.5 Z" fill="#333" stroke="#333" stroke-width="1"/><ellipse cx="-3" cy="0" rx="1.8" ry="3.5" fill="#333" stroke="#333" stroke-width="1"/></g>
<g transform="translate(1215.2,337.8) rotate(-153.77)"><rect x="0" y="-1.8" width="15.4" height="3.6" fill="#fff" stroke="#333" stroke-width="1.0"/><ellipse cx="0" cy="0" rx="1.1" ry="1.8" fill="#fff" stroke="#333" stroke-width="1.0"/></g>
<g transform="translate(1201.4,331.0) rotate(26.2)"><ellipse cx="1" cy="0" rx="1.8" ry="4.2" fill="#fff" stroke="#333" stroke-width="1"/><path d="M-3,-3.2 L1,-3.2 L1,3.2 L-3,3.2 Z" fill="#fff" stroke="#333" stroke-width="1"/><ellipse cx="-3" cy="0" rx="1.6" ry="3.2" fill="#fff" stroke="#333" stroke-width="1"/></g>
<ellipse cx="1228.3" cy="346.3" rx="6.8" ry="9.6" fill="#fff" stroke="#333" stroke-width="1.1" transform="rotate(25 1228.3 346.3)" /><ellipse cx="1229.0" cy="346.5" rx="3.2" ry="4.6" fill="#fff" stroke="#333" stroke-width="0.9" transform="rotate(25 1229 346.5)" /><ellipse cx="1229.0" cy="346.5" rx="1.6" ry="2.2" fill="#fff" stroke="#333" stroke-width="0.8" transform="rotate(25 1229 346.5)" />
<g transform="translate(1272.0,213.0) rotate(-143.43)"><rect x="0" y="-1.3" width="7.7" height="2.6" fill="#fff" stroke="#333" stroke-width="1.0"/><ellipse cx="0" cy="0" rx="0.8" ry="1.3" fill="#fff" stroke="#333" stroke-width="1.0"/></g>
<g transform="translate(1265.8,208.4) rotate(36.6)"><ellipse cx="1" cy="0" rx="1.2" ry="2.7" fill="#fff" stroke="#333" stroke-width="1"/><path d="M-3,-2.1 L1,-2.1 L1,2.1 L-3,2.1 Z" fill="#fff" stroke="#333" stroke-width="1"/><ellipse cx="-3" cy="0" rx="1.0" ry="2.1" fill="#fff" stroke="#333" stroke-width="1"/></g>
<g transform="translate(1235.5,399.7) rotate(-149.42)"><rect x="0" y="-1.7" width="12.8" height="3.4" fill="#fff" stroke="#333" stroke-width="1.0"/><ellipse cx="0" cy="0" rx="1.0" ry="1.7" fill="#fff" stroke="#333" stroke-width="1.0"/></g>
<g transform="translate(1224.5,393.2) rotate(30.6)"><ellipse cx="1" cy="0" rx="1.7" ry="4.0" fill="#fff" stroke="#333" stroke-width="1"/><path d="M-3,-3.0 L1,-3.0 L1,3.0 L-3,3.0 Z" fill="#fff" stroke="#333" stroke-width="1"/><ellipse cx="-3" cy="0" rx="1.5" ry="3.0" fill="#fff" stroke="#333" stroke-width="1"/></g>
<g transform="translate(1247.1,442.3) rotate(-149.42)"><rect x="0" y="-1.7" width="12.8" height="3.4" fill="#fff" stroke="#333" stroke-width="1.0"/><ellipse cx="0" cy="0" rx="1.0" ry="1.7" fill="#fff" stroke="#333" stroke-width="1.0"/></g>
<g transform="translate(1236.1,435.8) rotate(30.6)"><ellipse cx="1" cy="0" rx="1.7" ry="4.0" fill="#fff" stroke="#333" stroke-width="1"/><path d="M-3,-3.0 L1,-3.0 L1,3.0 L-3,3.0 Z" fill="#fff" stroke="#333" stroke-width="1"/><ellipse cx="-3" cy="0" rx="1.5" ry="3.0" fill="#fff" stroke="#333" stroke-width="1"/></g>
<g transform="translate(1344.5,364.8) rotate(-42.68)"><rect x="0" y="-1.7" width="12.2" height="3.4" fill="#fff" stroke="#333" stroke-width="1.0"/><ellipse cx="0" cy="0" rx="1.0" ry="1.7" fill="#fff" stroke="#333" stroke-width="1.0"/></g>
<g transform="translate(1353.5,356.5) rotate(137.3)"><ellipse cx="1" cy="0" rx="1.9" ry="4.4" fill="#fff" stroke="#333" stroke-width="1"/><path d="M-3,-3.4 L1,-3.4 L1,3.4 L-3,3.4 Z" fill="#fff" stroke="#333" stroke-width="1"/><ellipse cx="-3" cy="0" rx="1.7" ry="3.4" fill="#fff" stroke="#333" stroke-width="1"/></g>
<path d="M1332.4,371.2 L1329.0,374.4 L1324.3,373.3 L1323.0,368.8 L1326.4,365.6 L1331.1,366.7 Z" fill="#fff" stroke="#2e2e2e" stroke-width="1.35"/><ellipse cx="1328.3" cy="370.3" rx="2.4" ry="2.7" fill="#fff" stroke="#333" stroke-width="1.2" transform="rotate(-30 1328.3 370.3)" /><path d="M1323.0,368.8 L1326.2,370.0 M1326.4,365.6 L1327.7,367.6 M1327.7,372.4 L1329.0,374.4" stroke="#333" stroke-width="1"/>
<path d="M1343.4,409.9 L1340.0,413.1 L1335.3,412.0 L1334.0,407.5 L1337.4,404.3 L1342.1,405.4 Z" fill="#fff" stroke="#2e2e2e" stroke-width="1.35"/><ellipse cx="1339.3" cy="409.0" rx="2.4" ry="2.7" fill="#fff" stroke="#333" stroke-width="1.2" transform="rotate(-30 1339.3 409.0)" /><path d="M1334.0,407.5 L1337.2,408.7 M1337.4,404.3 L1338.7,406.3 M1338.7,411.1 L1340.0,413.1" stroke="#333" stroke-width="1"/>
<path d="M1304.1,437.7 L1300.7,440.9 L1296.0,439.8 L1294.7,435.3 L1298.1,432.1 L1302.8,433.2 Z" fill="#fff" stroke="#2e2e2e" stroke-width="1.35"/><ellipse cx="1300.0" cy="436.8" rx="2.4" ry="2.7" fill="#fff" stroke="#333" stroke-width="1.2" transform="rotate(-30 1300.0 436.8)" /><path d="M1294.7,435.3 L1297.9,436.5 M1298.1,432.1 L1299.4,434.1 M1299.4,438.9 L1300.7,440.9" stroke="#333" stroke-width="1"/>
<path d="M1315.7,479.6 L1312.3,482.8 L1307.6,481.7 L1306.3,477.2 L1309.7,474.0 L1314.4,475.1 Z" fill="#fff" stroke="#2e2e2e" stroke-width="1.35"/><ellipse cx="1311.6" cy="478.7" rx="2.4" ry="2.7" fill="#fff" stroke="#333" stroke-width="1.2" transform="rotate(-30 1311.6 478.7)" /><path d="M1306.3,477.2 L1309.5,478.4 M1309.7,474.0 L1311.0,476.0 M1311.0,480.8 L1312.3,482.8" stroke="#333" stroke-width="1"/>
<path d="M1333.4,372.7 L1330.0,375.9 L1325.3,374.8 L1324.0,370.3 L1327.4,367.1 L1332.1,368.2 Z" fill="#fff" stroke="#2e2e2e" stroke-width="1.35"/><ellipse cx="1329.3" cy="371.8" rx="2.4" ry="2.7" fill="#fff" stroke="#333" stroke-width="1.2" transform="rotate(-30 1329.3 371.8)" /><path d="M1324.0,370.3 L1327.2,371.5 M1327.4,367.1 L1328.7,369.1 M1328.7,373.9 L1330.0,375.9" stroke="#333" stroke-width="1"/>
<path d="M1274.8,376.5 L1309.7,345.5 L1312.3,346.8 L1325.8,400.3 L1323.9,402.3 L1291.6,431.9 L1289,438.4 Z" fill="#fff" stroke="#333" stroke-width="1.1" stroke-linejoin="round" />
<path d="M1277.4,377.1 L1291.6,435.8" fill="none" stroke="#555" stroke-width="2.4" stroke-linejoin="round" stroke-dasharray="1.2,1"/>
<path d="M1272.3,385.5 L1251.6,404.8 Q1245,411 1251.6,419 L1271,403.5" fill="#fff" stroke="#333" stroke-width="1.0" stroke-linejoin="round" />
<path d="M1277.4,434.5 L1260.6,446.1 Q1255,454 1262,461.6 L1287.7,441" fill="#fff" stroke="#333" stroke-width="1.0" stroke-linejoin="round" />
<ellipse cx="1254.2" cy="411.3" rx="1.4" ry="1.9" fill="#fff" stroke="#333" stroke-width="0.9" /><ellipse cx="1265.8" cy="453.9" rx="1.4" ry="1.9" fill="#fff" stroke="#333" stroke-width="0.9" />
<path d="M1272.3,407.4 L1282.6,413.9 L1287.7,435.8 L1280,432 Z" fill="#fff" stroke="#333" stroke-width="1.0" stroke-linejoin="round" />
<ellipse cx="1279.0" cy="421.0" rx="2.0" ry="1.5" fill="#888" stroke="#333" stroke-width="0.7" />
<path d="M1304,352 L1307,351 L1309,364 L1306,365.5 Z M1314,392 L1317,391 L1319,403 L1316,404.5 Z" fill="#fff" stroke="#333" stroke-width="0.9" stroke-linejoin="round" />
<path d="M1509,370 Q1526,336 1536,320 Q1545,308 1550.2,306.9 Q1556,304 1558.7,305.1 Q1564,306 1562.9,308.2 Q1550,324 1543,334 Q1538,340 1536.5,345 L1533.2,354.1 Q1537,352 1540.5,353.5 L1542.3,357.8 L1536.9,359 L1515,375 Q1510,381 1506,379.5 Q1502,376 1506,372 Z" fill="#fff" stroke="#333" stroke-width="1.0" stroke-linejoin="round" />
<path d="M1512,368 Q1527,338 1538,322 Q1547,310 1556,306.5" fill="none" stroke="#333" stroke-width="0.8" stroke-linejoin="round" />
<ellipse cx="1509.0" cy="375.5" rx="2.0" ry="1.6" fill="#fff" stroke="#333" stroke-width="0.8" />
<g transform="translate(1528.0,362.0) rotate(31.76)"><rect x="0" y="-4.1" width="12.3" height="8.2" fill="#fff" stroke="#333" stroke-width="1.0"/><ellipse cx="0" cy="0" rx="2.5" ry="4.1" fill="#fff" stroke="#333" stroke-width="1.0"/></g>
<ellipse cx="1538.5" cy="368.5" rx="2.6" ry="4.1" fill="#fff" stroke="#333" stroke-width="1.0" transform="rotate(30 1538.5 368.5)" />
<path d="M1557.4,373.5 L1567.1,369.9 L1569.5,372.3 L1570.1,383.2 Q1575,378 1577.4,367.4 L1582.9,365.6 L1601,344.5 L1603.4,343.8 L1604.6,346.9 L1604.6,361.4 L1591.3,386.8 L1580.6,400 L1567.7,500 Q1560,515 1548.4,527.4 L1535.5,537.1 L1519.4,480.6 L1541.9,464.5 L1545.2,446.8 L1540.3,438.7 L1550,416.1 L1561.3,406.5 L1567.1,406.2 L1569.5,396.5 L1564.7,394 L1551.4,398.9 Z" fill="#fff" stroke="#333" stroke-width="1.1" stroke-linejoin="round" />
<path d="M1584,365.6 L1590,388" fill="none" stroke="#555" stroke-width="2.4" stroke-linejoin="round" stroke-dasharray="1,1"/>
<path d="M1550,509.7 L1554.8,425.8 L1575.8,408 L1579,413 L1554,508 Q1552,512 1550,509.7 Z" fill="#fff" stroke="#333" stroke-width="1.0" stroke-linejoin="round" />
<path d="M1552.5,506 L1557,427 L1576,411" fill="none" stroke="#555" stroke-width="1.6" stroke-linejoin="round" stroke-dasharray="1,1"/>
<path d="M1529,487 L1545.2,474.2 L1546,477 L1530,489.5 Z" fill="#fff" stroke="#333" stroke-width="0.9" stroke-linejoin="round" />
<ellipse cx="1540.3" cy="523.4" rx="2.6" ry="4.0" fill="#fff" stroke="#333" stroke-width="0.9" transform="rotate(30 1540.3 523.4)" />
<ellipse cx="1562.0" cy="379.0" rx="1.8" ry="2.0" fill="#fff" stroke="#333" stroke-width="0.9" />
<ellipse cx="1555.0" cy="393.0" rx="1.2" ry="1.3" fill="#fff" stroke="#333" stroke-width="0.9" />
<ellipse cx="1572.0" cy="400.0" rx="1.2" ry="1.3" fill="#fff" stroke="#333" stroke-width="0.9" />
<g transform="translate(1592.5,394.0) rotate(33.87)"><rect x="0" y="-1.4" width="8.8" height="2.8" fill="#fff" stroke="#333" stroke-width="1.0"/><ellipse cx="0" cy="0" rx="0.8" ry="1.4" fill="#fff" stroke="#333" stroke-width="1.0"/></g>
<g transform="translate(1599.8,398.9) rotate(-146.1)"><ellipse cx="1" cy="0" rx="1.4" ry="3.4" fill="#fff" stroke="#333" stroke-width="1"/><path d="M-3,-2.6 L1,-2.6 L1,2.6 L-3,2.6 Z" fill="#fff" stroke="#333" stroke-width="1"/><ellipse cx="-3" cy="0" rx="1.3" ry="2.6" fill="#fff" stroke="#333" stroke-width="1"/></g>
<path d="M1442.7,479 L1487.1,443.5 L1504.8,500 L1469.4,530.6 L1456.5,533.9 Z" fill="#fff" stroke="#333" stroke-width="1.1" stroke-linejoin="round" />
<path d="M1446,480 L1458,532" fill="none" stroke="#555" stroke-width="2.4" stroke-linejoin="round" stroke-dasharray="1.2,1"/>
<path d="M1442.7,479 L1419.4,500 Q1415,506 1422.6,512.9 L1441.1,496.8" fill="#fff" stroke="#333" stroke-width="1.0" stroke-linejoin="round" />
<path d="M1448.4,524.2 L1426.6,545.2 Q1424,552 1432.3,554.8 L1456.5,533.9" fill="#fff" stroke="#333" stroke-width="1.0" stroke-linejoin="round" />
<ellipse cx="1423.5" cy="505.0" rx="1.4" ry="1.9" fill="#fff" stroke="#333" stroke-width="0.9" /><ellipse cx="1434.0" cy="547.0" rx="1.4" ry="1.9" fill="#fff" stroke="#333" stroke-width="0.9" />
<path d="M1430,515 Q1435,530 1448,524" fill="none" stroke="#333" stroke-width="1.0" stroke-linejoin="round" />
<path d="M1483,451 L1487,450 L1489,462 L1485,463 Z M1493,488 L1497,487 L1499,499 L1495,500 Z" fill="#fff" stroke="#333" stroke-width="0.9" stroke-linejoin="round" />
<ellipse cx="1430.6" cy="429.0" rx="5.2" ry="6.4" fill="#fff" stroke="#333" stroke-width="1.1" transform="rotate(20 1430.6 429)" /><ellipse cx="1431.0" cy="429.0" rx="2.6" ry="3.4" fill="#fff" stroke="#333" stroke-width="0.9" transform="rotate(20 1431 429)" />
<path d="M1445.8,468.9 L1442.4,472.1 L1437.7,471.0 L1436.4,466.5 L1439.8,463.3 L1444.5,464.4 Z" fill="#fff" stroke="#2e2e2e" stroke-width="1.35"/><ellipse cx="1441.7" cy="468.0" rx="2.4" ry="2.7" fill="#fff" stroke="#333" stroke-width="1.2" transform="rotate(-30 1441.6999999999998 468.0)" /><path d="M1436.4,466.5 L1439.6,467.7 M1439.8,463.3 L1441.1,465.3 M1441.1,470.1 L1442.4,472.1" stroke="#333" stroke-width="1"/>
<path d="M1407.9,493.1 L1404.5,496.3 L1399.8,495.2 L1398.5,490.7 L1401.9,487.5 L1406.6,488.6 Z" fill="#fff" stroke="#2e2e2e" stroke-width="1.35"/><ellipse cx="1403.8" cy="492.2" rx="2.4" ry="2.7" fill="#fff" stroke="#333" stroke-width="1.2" transform="rotate(-30 1403.8 492.2)" /><path d="M1398.5,490.7 L1401.7,491.9 M1401.9,487.5 L1403.2,489.5 M1403.2,494.3 L1404.5,496.3" stroke="#333" stroke-width="1"/>
<path d="M1418.4,535.1 L1415.0,538.3 L1410.3,537.2 L1409.0,532.7 L1412.4,529.5 L1417.1,530.6 Z" fill="#fff" stroke="#2e2e2e" stroke-width="1.35"/><ellipse cx="1414.3" cy="534.2" rx="2.4" ry="2.7" fill="#fff" stroke="#333" stroke-width="1.2" transform="rotate(-30 1414.3 534.1999999999999)" /><path d="M1409.0,532.7 L1412.2,533.9 M1412.4,529.5 L1413.7,531.5 M1413.7,536.3 L1415.0,538.3" stroke="#333" stroke-width="1"/>
<g transform="translate(1504.8,446.8) rotate(-48.32)"><rect x="0" y="-1.6" width="9.8" height="3.2" fill="#fff" stroke="#333" stroke-width="1.0"/><ellipse cx="0" cy="0" rx="1.0" ry="1.6" fill="#fff" stroke="#333" stroke-width="1.0"/></g>
<g transform="translate(1511.3,439.5) rotate(131.7)"><ellipse cx="1" cy="0" rx="1.8" ry="4.2" fill="#fff" stroke="#333" stroke-width="1"/><path d="M-3,-3.2 L1,-3.2 L1,3.2 L-3,3.2 Z" fill="#fff" stroke="#333" stroke-width="1"/><ellipse cx="-3" cy="0" rx="1.6" ry="3.2" fill="#fff" stroke="#333" stroke-width="1"/></g>
<g transform="translate(1474.2,531.5) rotate(34.66)"><rect x="0" y="-1.6" width="9.8" height="3.2" fill="#fff" stroke="#333" stroke-width="1.0"/><ellipse cx="0" cy="0" rx="1.0" ry="1.6" fill="#fff" stroke="#333" stroke-width="1.0"/></g>
<g transform="translate(1482.3,537.1) rotate(-145.3)"><ellipse cx="1" cy="0" rx="1.6" ry="3.8" fill="#fff" stroke="#333" stroke-width="1"/><path d="M-3,-2.9 L1,-2.9 L1,2.9 L-3,2.9 Z" fill="#fff" stroke="#333" stroke-width="1"/><ellipse cx="-3" cy="0" rx="1.4" ry="2.9" fill="#fff" stroke="#333" stroke-width="1"/></g>
<g transform="translate(1485.5,575.0) rotate(30.00)"><rect x="0" y="-1.5" width="11.2" height="3.0" fill="#fff" stroke="#333" stroke-width="1.0"/><ellipse cx="0" cy="0" rx="0.9" ry="1.5" fill="#fff" stroke="#333" stroke-width="1.0"/></g>
<g transform="translate(1495.2,580.6) rotate(-150.0)"><ellipse cx="1" cy="0" rx="1.5" ry="3.6" fill="#fff" stroke="#333" stroke-width="1"/><path d="M-3,-2.7 L1,-2.7 L1,2.7 L-3,2.7 Z" fill="#fff" stroke="#333" stroke-width="1"/><ellipse cx="-3" cy="0" rx="1.4" ry="2.7" fill="#fff" stroke="#333" stroke-width="1"/></g>
<g transform="translate(1569.4,509.7) rotate(22.62)"><rect x="0" y="-1.7" width="10.4" height="3.4" fill="#fff" stroke="#333" stroke-width="1.0"/><ellipse cx="0" cy="0" rx="1.0" ry="1.7" fill="#fff" stroke="#333" stroke-width="1.0"/></g>
<g transform="translate(1579.0,513.7) rotate(-157.4)"><ellipse cx="1" cy="0" rx="1.9" ry="4.4" fill="#fff" stroke="#333" stroke-width="1"/><path d="M-3,-3.4 L1,-3.4 L1,3.4 L-3,3.4 Z" fill="#333" stroke="#333" stroke-width="1"/><ellipse cx="-3" cy="0" rx="1.7" ry="3.4" fill="#333" stroke="#333" stroke-width="1"/></g>
<ellipse cx="1562.9" cy="537.1" rx="6.5" ry="8.4" fill="#fff" stroke="#333" stroke-width="1.1" transform="rotate(25 1562.9 537.1)" /><ellipse cx="1563.0" cy="537.5" rx="1.4" ry="2.0" fill="#fff" stroke="#333" stroke-width="0.9" />
<g transform="translate(1580.6,546.8) rotate(29.31)"><rect x="0" y="-1.6" width="13.1" height="3.2" fill="#fff" stroke="#333" stroke-width="1.0"/><ellipse cx="0" cy="0" rx="1.0" ry="1.6" fill="#fff" stroke="#333" stroke-width="1.0"/></g>
<g transform="translate(1592.0,553.2) rotate(-150.7)"><ellipse cx="1" cy="0" rx="1.8" ry="4.2" fill="#fff" stroke="#333" stroke-width="1"/><path d="M-3,-3.2 L1,-3.2 L1,3.2 L-3,3.2 Z" fill="#fff" stroke="#333" stroke-width="1"/><ellipse cx="-3" cy="0" rx="1.6" ry="3.2" fill="#fff" stroke="#333" stroke-width="1"/></g>
<line x1="1322.6" y1="406.5" x2="1000" y2="659" stroke="#444" stroke-width="0.85" stroke-dasharray="2.4,1.7" fill="none"/>
<line x1="1290" y1="440" x2="1262" y2="455" stroke="#444" stroke-width="0.85" stroke-dasharray="2.4,1.7" fill="none"/>
<line x1="1409.7" y1="535.5" x2="1238.7" y2="629" stroke="#444" stroke-width="0.85" stroke-dasharray="2.4,1.7" fill="none"/>
<line x1="1483.9" y1="574.2" x2="1418" y2="537" stroke="#444" stroke-width="0.85" stroke-dasharray="2.4,1.7" fill="none"/>
<line x1="1087" y1="516" x2="1019.4" y2="571" stroke="#444" stroke-width="0.85" stroke-dasharray="2.4,1.7" fill="none"/>
<line x1="1190.3" y1="529" x2="1113" y2="580.6" stroke="#444" stroke-width="0.85" stroke-dasharray="2.4,1.7" fill="none"/>
<line x1="1190.3" y1="529" x2="1209.7" y2="514.5" stroke="#444" stroke-width="0.85" stroke-dasharray="2.4,1.7" fill="none"/>
<line x1="1180.6" y1="571" x2="1135.5" y2="609.7" stroke="#444" stroke-width="0.85" stroke-dasharray="2.4,1.7" fill="none"/>
<line x1="1264.5" y1="574.2" x2="1161.3" y2="654.8" stroke="#444" stroke-width="0.85" stroke-dasharray="2.4,1.7" fill="none"/>
<line x1="1258" y1="603.2" x2="1190" y2="648" stroke="#444" stroke-width="0.85" stroke-dasharray="2.4,1.7" fill="none"/>
<line x1="1292" y1="583.9" x2="1309.7" y2="567.7" stroke="#444" stroke-width="0.85" stroke-dasharray="2.4,1.7" fill="none"/>
<line x1="1292" y1="583.9" x2="1242" y2="625.8" stroke="#444" stroke-width="0.85" stroke-dasharray="2.4,1.7" fill="none"/>
<line x1="1348.4" y1="645.2" x2="1290.3" y2="690.3" stroke="#444" stroke-width="0.85" stroke-dasharray="2.4,1.7" fill="none"/>
<line x1="1413" y1="619.4" x2="1309.7" y2="700" stroke="#444" stroke-width="0.85" stroke-dasharray="2.4,1.7" fill="none"/>
<line x1="1335.5" y1="680.6" x2="1309.7" y2="700" stroke="#444" stroke-width="0.85" stroke-dasharray="2.4,1.7" fill="none"/>
<line x1="1440" y1="763.9" x2="1349.7" y2="843.9" stroke="#444" stroke-width="0.85" stroke-dasharray="2.4,1.7" fill="none"/>
<line x1="1322" y1="562" x2="1200" y2="660" stroke="#444" stroke-width="0.85" stroke-dasharray="2.4,1.7" fill="none"/>
<line x1="1350.7" y1="691.3" x2="1330" y2="706" stroke="#444" stroke-width="0.85" stroke-dasharray="2.4,1.7" fill="none"/>
<line x1="1338.7" y1="725.8" x2="1320" y2="740" stroke="#444" stroke-width="0.85" stroke-dasharray="2.4,1.7" fill="none"/>
<ellipse cx="1208.5" cy="515.3" rx="8.6" ry="9.2" fill="#fff" stroke="#333" stroke-width="1.1" /><ellipse cx="1204.5" cy="518.3" rx="5.5" ry="6.5" fill="#fff" stroke="#333" stroke-width="1.0" transform="rotate(-30 1204.5 518.3)" /><ellipse cx="1202.5" cy="520.3" rx="3.0" ry="3.6" fill="#fff" stroke="#333" stroke-width="0.9" transform="rotate(-30 1202.5 520.3)" /><path d="M1201.0,518.3 L1204.0,521.3 M1200.0,520.3 L1203.0,523.3" stroke="#333" stroke-width="0.8"/>
<ellipse cx="1312.0" cy="567.4" rx="8.6" ry="9.2" fill="#fff" stroke="#333" stroke-width="1.1" /><ellipse cx="1308.0" cy="570.4" rx="5.5" ry="6.5" fill="#fff" stroke="#333" stroke-width="1.0" transform="rotate(-30 1308 570.4)" /><ellipse cx="1306.0" cy="572.4" rx="3.0" ry="3.6" fill="#fff" stroke="#333" stroke-width="0.9" transform="rotate(-30 1306 572.4)" /><path d="M1304.5,570.4 L1307.5,573.4 M1303.5,572.4 L1306.5,575.4" stroke="#333" stroke-width="0.8"/>
<path d="M1195.6,532.5 L1193.0,535.0 L1189.4,534.1 L1188.4,530.7 L1191.0,528.2 L1194.6,529.1 Z" fill="#fff" stroke="#2e2e2e" stroke-width="1.35"/><ellipse cx="1192.6" cy="531.9" rx="1.9" ry="2.1" fill="#fff" stroke="#333" stroke-width="1.2" transform="rotate(-30 1192.6 531.9)" /><path d="M1188.4,530.7 L1190.9,531.6 M1191.0,528.2 L1192.0,529.7 M1192.0,533.5 L1193.0,535.0" stroke="#333" stroke-width="1"/>
<path d="M1296.2,585.8 L1293.6,588.3 L1290.0,587.4 L1289.0,584.0 L1291.6,581.5 L1295.2,582.4 Z" fill="#fff" stroke="#2e2e2e" stroke-width="1.35"/><ellipse cx="1293.2" cy="585.2" rx="1.9" ry="2.1" fill="#fff" stroke="#333" stroke-width="1.2" transform="rotate(-30 1293.1999999999998 585.1999999999999)" /><path d="M1289.0,584.0 L1291.5,584.9 M1291.6,581.5 L1292.6,583.0 M1292.6,586.8 L1293.6,588.3" stroke="#333" stroke-width="1"/>
<g transform="translate(1081.0,520.5) rotate(-39.47)"><rect x="0" y="-1.6" width="11.0" height="3.2" fill="#fff" stroke="#333" stroke-width="1.0"/><ellipse cx="0" cy="0" rx="1.0" ry="1.6" fill="#fff" stroke="#333" stroke-width="1.0"/></g>
<g transform="translate(1089.5,513.5) rotate(140.5)"><ellipse cx="1" cy="0" rx="1.7" ry="4.0" fill="#fff" stroke="#333" stroke-width="1"/><path d="M-3,-3.0 L1,-3.0 L1,3.0 L-3,3.0 Z" fill="#fff" stroke="#333" stroke-width="1"/><ellipse cx="-3" cy="0" rx="1.5" ry="3.0" fill="#fff" stroke="#333" stroke-width="1"/></g>
<g transform="translate(1177.0,574.0) rotate(-41.19)"><rect x="0" y="-1.6" width="10.6" height="3.2" fill="#fff" stroke="#333" stroke-width="1.0"/><ellipse cx="0" cy="0" rx="1.0" ry="1.6" fill="#fff" stroke="#333" stroke-width="1.0"/></g>
<g transform="translate(1185.0,567.0) rotate(138.8)"><ellipse cx="1" cy="0" rx="1.7" ry="4.0" fill="#fff" stroke="#333" stroke-width="1"/><path d="M-3,-3.0 L1,-3.0 L1,3.0 L-3,3.0 Z" fill="#fff" stroke="#333" stroke-width="1"/><ellipse cx="-3" cy="0" rx="1.5" ry="3.0" fill="#fff" stroke="#333" stroke-width="1"/></g>
<g transform="translate(1260.7,581.0) rotate(-40.88)"><rect x="0" y="-1.6" width="8.9" height="3.2" fill="#fff" stroke="#333" stroke-width="1.0"/><ellipse cx="0" cy="0" rx="1.0" ry="1.6" fill="#fff" stroke="#333" stroke-width="1.0"/></g>
<g transform="translate(1267.4,575.2) rotate(139.1)"><ellipse cx="1" cy="0" rx="1.7" ry="4.0" fill="#fff" stroke="#333" stroke-width="1"/><path d="M-3,-3.0 L1,-3.0 L1,3.0 L-3,3.0 Z" fill="#fff" stroke="#333" stroke-width="1"/><ellipse cx="-3" cy="0" rx="1.5" ry="3.0" fill="#fff" stroke="#333" stroke-width="1"/></g>
<g transform="translate(1254.0,607.5) rotate(-29.36)"><rect x="0" y="-1.6" width="9.2" height="3.2" fill="#fff" stroke="#333" stroke-width="1.0"/><ellipse cx="0" cy="0" rx="1.0" ry="1.6" fill="#fff" stroke="#333" stroke-width="1.0"/></g>
<g transform="translate(1262.0,603.0) rotate(150.6)"><ellipse cx="1" cy="0" rx="1.7" ry="4.0" fill="#fff" stroke="#333" stroke-width="1"/><path d="M-3,-3.0 L1,-3.0 L1,3.0 L-3,3.0 Z" fill="#fff" stroke="#333" stroke-width="1"/><ellipse cx="-3" cy="0" rx="1.5" ry="3.0" fill="#fff" stroke="#333" stroke-width="1"/></g>
<path d="M1229.1,608.2 L1225.9,611.1 L1221.7,610.1 L1220.5,606.0 L1223.7,603.1 L1227.9,604.1 Z" fill="#fff" stroke="#2e2e2e" stroke-width="1.35"/><ellipse cx="1225.4" cy="607.4" rx="2.2" ry="2.4" fill="#fff" stroke="#333" stroke-width="1.2" transform="rotate(-30 1225.3999999999999 607.4)" /><path d="M1220.5,606.0 L1223.5,607.1 M1223.7,603.1 L1224.8,604.9 M1224.8,609.3 L1225.9,611.1" stroke="#333" stroke-width="1"/>
<g transform="translate(1346.8,648.7) rotate(-36.99)"><rect x="0" y="-1.6" width="9.6" height="3.2" fill="#fff" stroke="#333" stroke-width="1.0"/><ellipse cx="0" cy="0" rx="1.0" ry="1.6" fill="#fff" stroke="#333" stroke-width="1.0"/></g>
<g transform="translate(1354.5,642.9) rotate(143.0)"><ellipse cx="1" cy="0" rx="1.8" ry="4.2" fill="#fff" stroke="#333" stroke-width="1"/><path d="M-3,-3.2 L1,-3.2 L1,3.2 L-3,3.2 Z" fill="#fff" stroke="#333" stroke-width="1"/><ellipse cx="-3" cy="0" rx="1.6" ry="3.2" fill="#fff" stroke="#333" stroke-width="1"/></g>
<path d="M1340.1,682.6 L1337.2,685.4 L1333.1,684.4 L1332.1,680.6 L1335.0,677.8 L1339.1,678.8 Z" fill="#fff" stroke="#2e2e2e" stroke-width="1.35"/><ellipse cx="1336.7" cy="681.9" rx="2.1" ry="2.3" fill="#fff" stroke="#333" stroke-width="1.2" transform="rotate(-30 1336.6999999999998 681.9)" /><path d="M1332.1,680.6 L1334.8,681.6 M1335.0,677.8 L1336.1,679.5 M1336.1,683.7 L1337.2,685.4" stroke="#333" stroke-width="1"/>
<path d="M1354.7,692.3 L1351.8,695.1 L1347.7,694.1 L1346.7,690.3 L1349.6,687.5 L1353.7,688.5 Z" fill="#fff" stroke="#2e2e2e" stroke-width="1.35"/><ellipse cx="1351.3" cy="691.6" rx="2.1" ry="2.3" fill="#fff" stroke="#333" stroke-width="1.2" transform="rotate(-30 1351.3 691.5999999999999)" /><path d="M1346.7,690.3 L1349.4,691.3 M1349.6,687.5 L1350.7,689.2 M1350.7,693.4 L1351.8,695.1" stroke="#333" stroke-width="1"/>
<g transform="translate(1333.0,729.0) rotate(-38.66)"><rect x="0" y="-1.6" width="7.7" height="3.2" fill="#fff" stroke="#333" stroke-width="1.0"/><ellipse cx="0" cy="0" rx="1.0" ry="1.6" fill="#fff" stroke="#333" stroke-width="1.0"/></g>
<g transform="translate(1339.0,724.2) rotate(141.3)"><ellipse cx="1" cy="0" rx="1.7" ry="4.0" fill="#fff" stroke="#333" stroke-width="1"/><path d="M-3,-3.0 L1,-3.0 L1,3.0 L-3,3.0 Z" fill="#fff" stroke="#333" stroke-width="1"/><ellipse cx="-3" cy="0" rx="1.5" ry="3.0" fill="#fff" stroke="#333" stroke-width="1"/></g>
<g transform="translate(1408.7,623.6) rotate(-49.54)"><rect x="0" y="-1.8" width="8.9" height="3.6" fill="#fff" stroke="#333" stroke-width="1.0"/><ellipse cx="0" cy="0" rx="1.1" ry="1.8" fill="#fff" stroke="#333" stroke-width="1.0"/></g>
<ellipse cx="1415.5" cy="615.8" rx="2.2" ry="3.4" fill="#fff" stroke="#333" stroke-width="1.0" transform="rotate(-50 1415.5 615.8)" />
<path d="M1345,603.7 L1351.3,594.5 L1355.2,593.5 L1361.4,596.5 L1367.7,603.2 L1370.2,607.6 L1374.5,625 L1374,629.3 L1363.9,635.6 L1357.1,632.3 L1352.3,626 L1346.5,612.9 Z" fill="#444" stroke="#333" stroke-width="1.1" stroke-linejoin="round" />
<path d="M1346.5,604.5 L1350,604.5 L1353.5,607 L1357.5,614 L1360.5,621 L1363.3,628.5 L1362.4,633.2 L1358,632 L1352.5,625 L1347.5,612 Z" fill="#fff" stroke="#333" stroke-width="1.0" stroke-linejoin="round" />
<path d="M1351.5,623 L1356.5,619" fill="none" stroke="#333" stroke-width="1.0" stroke-linejoin="round" />
<g fill="#bbb"><circle cx="1356" cy="600" r="0.45"/><circle cx="1359" cy="602" r="0.45"/><circle cx="1363" cy="605" r="0.45"/><circle cx="1366" cy="609" r="0.45"/><circle cx="1365" cy="615" r="0.45"/><circle cx="1368" cy="620" r="0.45"/><circle cx="1370" cy="626" r="0.45"/><circle cx="1364" cy="624" r="0.45"/><circle cx="1361" cy="628" r="0.45"/><circle cx="1367" cy="631" r="0.45"/><circle cx="1360" cy="611" r="0.45"/><circle cx="1363" cy="618" r="0.45"/></g>
<path d="M1316,700 Q1313,704 1318,707 Q1322,710 1320,714 L1327,716 Q1333,713 1337,718 Q1343,720 1349,712 Q1353,706 1347,702 Q1341,700 1335,707 L1328,710" fill="none" stroke="#333" stroke-width="1.0" stroke-linejoin="round" />
<path d="M1326,706 L1330,715 M1329,705 L1333,714 M1332,705 L1336,714" fill="none" stroke="#333" stroke-width="1.2" stroke-linejoin="round" />
<path d="M1444.3,765.2 L1441.5,767.8 L1437.7,766.9 L1436.7,763.2 L1439.5,760.6 L1443.3,761.5 Z" fill="#fff" stroke="#2e2e2e" stroke-width="1.35"/><ellipse cx="1441.1" cy="764.5" rx="2.0" ry="2.2" fill="#fff" stroke="#333" stroke-width="1.2" transform="rotate(-30 1441.1 764.5)" /><path d="M1436.7,763.2 L1439.3,764.2 M1439.5,760.6 L1440.5,762.2 M1440.5,766.2 L1441.5,767.8" stroke="#333" stroke-width="1"/>
<path d="M841.5,647.1 L892.3,676.5 Q898,680 898.5,685 L910.3,705.8" fill="none" stroke="#333" stroke-width="5.2" stroke-linejoin="round" />
<path d="M841.5,647.1 L892.3,676.5 Q898,680 898.5,685 L910.3,705.8" fill="none" stroke="#fff" stroke-width="3.2" stroke-linejoin="round" />
<path d="M847,646 L862,653 L864,657 L849,650 Z" fill="#fff" stroke="#333" stroke-width="0.9" stroke-linejoin="round" />
<ellipse cx="841.5" cy="647.1" rx="1.4" ry="2.5" fill="#fff" stroke="#333" stroke-width="0.9" transform="rotate(-30 841.5 647.1)" />
<path d="M893,679 L898,683 M900,692 L904.5,690" fill="none" stroke="#333" stroke-width="0.9" stroke-linejoin="round" />
<path d="M929.5,650.5 L901.3,633.5 L883.2,633.5 Q874,634 874.2,641 Q875,648 883,648 L902.4,647.7 L916,655 L918.2,661.8 L944.2,676.5 L980.3,779 L983.5,782.3 L1035.2,858 Q1040,863 1038.4,869.4" fill="none" stroke="#333" stroke-width="4.4" stroke-linejoin="round" />
<path d="M929.5,650.5 L901.3,633.5 L883.2,633.5 Q874,634 874.2,641 Q875,648 883,648 L902.4,647.7 L916,655 L918.2,661.8 L944.2,676.5 L980.3,779 L983.5,782.3 L1035.2,858 Q1040,863 1038.4,869.4" fill="none" stroke="#fff" stroke-width="2.4" stroke-linejoin="round" />
<path d="M884,633.6 L884,648 M901,633.6 L901,647.7" fill="none" stroke="#777" stroke-width="0.8" stroke-linejoin="round" />
<path d="M837,664 Q836,668 840,670 L862,680 L864,676 L842,665 Z" fill="#fff" stroke="#333" stroke-width="1.0" stroke-linejoin="round" />
<ellipse cx="841.0" cy="664.5" rx="2.6" ry="2.2" fill="#fff" stroke="#333" stroke-width="1.0" /><ellipse cx="860.5" cy="675.5" rx="2.6" ry="2.2" fill="#fff" stroke="#333" stroke-width="1.0" />
<path d="M855,682 L865,688 L866,695 L862,700 L862,719 L858,722 L848,716 L847,694 L853,688 Z" fill="#fff" stroke="#333" stroke-width="1.0" stroke-linejoin="round" />
<path d="M850,696 L857,700 L858,713 L851,709 Z" fill="#fff" stroke="#333" stroke-width="1.0" stroke-linejoin="round" />
<path d="M849,718 L855,721 L852,731 L847,728 Z" fill="#fff" stroke="#333" stroke-width="0.9" stroke-linejoin="round" />
<ellipse cx="849.5" cy="727.0" rx="1.3" ry="1.3" fill="#fff" stroke="#333" stroke-width="0.8" />
<ellipse cx="859.0" cy="686.0" rx="3.0" ry="2.5" fill="#fff" stroke="#333" stroke-width="1.0" />
<path d="M872.5,731.5 Q876,729 883,730.5 Q889,733 888.5,737.5 Q885,740 878,738.5 Q872,737 872.5,731.5 Z" fill="#3a3a3a" stroke="#333" stroke-width="1"/>
<g transform="translate(954.5,740.3) rotate(137.62)"><rect x="0" y="-1.5" width="10.8" height="3.0" fill="#fff" stroke="#333" stroke-width="1.0"/><ellipse cx="0" cy="0" rx="0.9" ry="1.5" fill="#fff" stroke="#333" stroke-width="1.0"/></g>
<g transform="translate(946.5,747.6) rotate(-42.4)"><ellipse cx="1" cy="0" rx="1.4" ry="3.4" fill="#fff" stroke="#333" stroke-width="1"/><path d="M-3,-2.6 L1,-2.6 L1,2.6 L-3,2.6 Z" fill="#fff" stroke="#333" stroke-width="1"/><ellipse cx="-3" cy="0" rx="1.3" ry="2.6" fill="#fff" stroke="#333" stroke-width="1"/></g>
<g transform="translate(914.2,792.0) rotate(-142.99)"><rect x="0" y="-1.6" width="8.1" height="3.2" fill="#fff" stroke="#333" stroke-width="1.0"/><ellipse cx="0" cy="0" rx="1.0" ry="1.6" fill="#fff" stroke="#333" stroke-width="1.0"/></g>
<g transform="translate(907.7,787.1) rotate(37.0)"><ellipse cx="1" cy="0" rx="1.7" ry="4.0" fill="#fff" stroke="#333" stroke-width="1"/><path d="M-3,-3.0 L1,-3.0 L1,3.0 L-3,3.0 Z" fill="#333" stroke="#333" stroke-width="1"/><ellipse cx="-3" cy="0" rx="1.5" ry="3.0" fill="#333" stroke="#333" stroke-width="1"/></g>
<line x1="954.5" y1="740.3" x2="985" y2="716" stroke="#444" stroke-width="0.85" stroke-dasharray="2.4,1.7" fill="none"/>
<line x1="914.2" y1="792" x2="925" y2="798" stroke="#444" stroke-width="0.85" stroke-dasharray="2.4,1.7" fill="none"/>
<path d="M930.3,789.5 L984.4,809.7 L983.5,833.9 L933.5,816.1 L924.7,803.2 L925.5,795.2 Z" fill="#fff" stroke="#333" stroke-width="1.1" stroke-linejoin="round" />
<path d="M956.9,801.6 L947.3,821.8" fill="none" stroke="#333" stroke-width="1.1" stroke-linejoin="round" />
<path d="M928,791 L927.5,802 L935,814" fill="none" stroke="#333" stroke-width="0.8" stroke-linejoin="round" />
<ellipse cx="931.1" cy="803.2" rx="1.2" ry="1.6" fill="#fff" stroke="#333" stroke-width="0.8" />
<g transform="translate(957.7,842.7) rotate(139.12)"><rect x="0" y="-2.1" width="8.9" height="4.2" fill="#fff" stroke="#333" stroke-width="1.0"/></g>
<ellipse cx="948.9" cy="850.8" rx="2.4" ry="4.0" fill="#fff" stroke="#333" stroke-width="1.0" transform="rotate(-40 948.9 850.8)" />
<line x1="957.7" y1="842.7" x2="983" y2="822" stroke="#444" stroke-width="0.85" stroke-dasharray="2.4,1.7" fill="none"/>
<line x1="984" y1="812" x2="1000" y2="800" stroke="#444" stroke-width="0.85" stroke-dasharray="2.4,1.7" fill="none"/>
<g transform="translate(1049.7,801.6) rotate(141.25)"><rect x="0" y="-1.4" width="10.4" height="2.8" fill="#fff" stroke="#333" stroke-width="1.0"/><ellipse cx="0" cy="0" rx="0.8" ry="1.4" fill="#fff" stroke="#333" stroke-width="1.0"/></g>
<g transform="translate(1041.6,808.1) rotate(-38.7)"><ellipse cx="1" cy="0" rx="1.4" ry="3.2" fill="#fff" stroke="#333" stroke-width="1"/><path d="M-3,-2.4 L1,-2.4 L1,2.4 L-3,2.4 Z" fill="#fff" stroke="#333" stroke-width="1"/><ellipse cx="-3" cy="0" rx="1.2" ry="2.4" fill="#fff" stroke="#333" stroke-width="1"/></g>
<line x1="1049.7" y1="801.6" x2="1075" y2="783" stroke="#444" stroke-width="0.85" stroke-dasharray="2.4,1.7" fill="none"/>
<ellipse cx="1038.7" cy="883.1" rx="2.6" ry="1.5" fill="#fff" stroke="#333" stroke-width="1.0" />
<g transform="translate(1143.0,853.3) rotate(146.01)"><rect x="0" y="-2.0" width="10.7" height="4.0" fill="#fff" stroke="#333" stroke-width="1.0"/></g>
<ellipse cx="1134.1" cy="859.3" rx="2.6" ry="4.3" fill="#fff" stroke="#333" stroke-width="1.0" transform="rotate(-40 1134.1 859.3)" />
<g transform="translate(1159.3,862.2) rotate(146.01)"><rect x="0" y="-2.0" width="10.7" height="4.0" fill="#fff" stroke="#333" stroke-width="1.0"/></g>
<ellipse cx="1150.4" cy="868.2" rx="2.6" ry="4.3" fill="#fff" stroke="#333" stroke-width="1.0" transform="rotate(-40 1150.4 868.2)" />
<line x1="1143" y1="853.3" x2="1176" y2="832" stroke="#444" stroke-width="0.85" stroke-dasharray="2.4,1.7" fill="none"/>
<line x1="1159.3" y1="862.2" x2="1185" y2="846" stroke="#444" stroke-width="0.85" stroke-dasharray="2.4,1.7" fill="none"/>
<ellipse cx="1176.5" cy="832.0" rx="1.3" ry="1.8" fill="#fff" stroke="#333" stroke-width="0.8" transform="rotate(-30 1176.5 832)" /><ellipse cx="1184.5" cy="845.5" rx="1.3" ry="1.8" fill="#fff" stroke="#333" stroke-width="0.8" transform="rotate(-30 1184.5 845.5)" />
<path d="M1088.3,901 L1091.7,900.2 L1184,943.8 L1188.3,952.4 L1194.3,953.2 L1211.4,969.5 L1215.7,978 L1213.1,981.4 L1197.7,976.3 L1105.4,933.5 L1093.4,928.4 L1083.1,913 L1084,906.2 Z" fill="#fff" stroke="#333" stroke-width="1.1" stroke-linejoin="round" />
<path d="M1115.6,912.2 L1106.2,932.7" fill="none" stroke="#333" stroke-width="1.1" stroke-linejoin="round" />
<path d="M1189.2,953.2 L1202.9,976.3" fill="none" stroke="#333" stroke-width="0.9" stroke-linejoin="round" />
<path d="M1086,905 L1085.5,912 L1095,926" fill="none" stroke="#333" stroke-width="0.8" stroke-linejoin="round" />
<ellipse cx="1090.0" cy="913.0" rx="1.2" ry="1.6" fill="#fff" stroke="#333" stroke-width="0.8" /><ellipse cx="1206.3" cy="972.9" rx="1.6" ry="1.3" fill="#fff" stroke="#333" stroke-width="0.8" />
<path d="M1092,915 L1100,919 L1093,927 L1085,935 L1099,943" fill="none" stroke="#333" stroke-width="0.8" stroke-linejoin="round" stroke-dasharray="2,1.5"/>
<g transform="translate(1102.8,949.8) rotate(29.18)"><rect x="0" y="-1.5" width="8.8" height="3.0" fill="#fff" stroke="#333" stroke-width="1.0"/><ellipse cx="0" cy="0" rx="0.9" ry="1.5" fill="#fff" stroke="#333" stroke-width="1.0"/></g>
<g transform="translate(1110.5,954.1) rotate(-150.8)"><ellipse cx="1" cy="0" rx="1.6" ry="3.8" fill="#fff" stroke="#333" stroke-width="1"/><path d="M-3,-2.9 L1,-2.9 L1,2.9 L-3,2.9 Z" fill="#fff" stroke="#333" stroke-width="1"/><ellipse cx="-3" cy="0" rx="1.4" ry="2.9" fill="#fff" stroke="#333" stroke-width="1"/></g>
<path d="M1033.5,943.8 L1042.1,945.5 L1054.9,959.2 L1031.8,1029.3 L1030.1,1036.2 Q1028,1043 1022,1044 Q1016,1044 1013.9,1037.9 L1016.4,1031 L1044.7,952.4 Z" fill="#fff" stroke="#333" stroke-width="1.1" stroke-linejoin="round" />
<path d="M1034,946 L1044.5,952" fill="none" stroke="#333" stroke-width="0.8" stroke-linejoin="round" />
<path d="M1042,956 L1018,1030" fill="none" stroke="#555" stroke-width="1.8" stroke-linejoin="round" stroke-dasharray="1,1"/>
<path d="M1019.9,1028.5 L1030.1,1031" fill="none" stroke="#333" stroke-width="1.0" stroke-linejoin="round" />
<ellipse cx="1020.7" cy="1038.7" rx="1.4" ry="1.4" fill="#fff" stroke="#333" stroke-width="0.8" />
<path d="M1028.1,964.5 L1025.2,967.3 L1021.1,966.3 L1020.1,962.5 L1023.0,959.7 L1027.1,960.7 Z" fill="#fff" stroke="#2e2e2e" stroke-width="1.35"/><ellipse cx="1024.7" cy="963.8" rx="2.1" ry="2.3" fill="#fff" stroke="#333" stroke-width="1.2" transform="rotate(-30 1024.6999999999998 963.8)" /><path d="M1020.1,962.5 L1022.8,963.5 M1023.0,959.7 L1024.1,961.4 M1024.1,965.6 L1025.2,967.3" stroke="#333" stroke-width="1"/>
<path d="M1041.0,1049.1 L1038.1,1051.9 L1034.0,1050.9 L1033.0,1047.1 L1035.9,1044.3 L1040.0,1045.3 Z" fill="#fff" stroke="#2e2e2e" stroke-width="1.35"/><ellipse cx="1037.6" cy="1048.4" rx="2.1" ry="2.3" fill="#fff" stroke="#333" stroke-width="1.2" transform="rotate(-30 1037.6 1048.3999999999999)" /><path d="M1033.0,1047.1 L1035.7,1048.1 M1035.9,1044.3 L1037.0,1046.0 M1037.0,1050.2 L1038.1,1051.9" stroke="#333" stroke-width="1"/>
<line x1="1024" y1="963" x2="1040" y2="950" stroke="#444" stroke-width="0.85" stroke-dasharray="2.4,1.7" fill="none"/>
<line x1="1042" y1="950" x2="1137.9" y2="863.4" stroke="#444" stroke-width="0.85" stroke-dasharray="2.4,1.7" fill="none"/>
<line x1="1004.5" y1="1028.5" x2="1016" y2="1035" stroke="#444" stroke-width="0.85" stroke-dasharray="2.4,1.7" fill="none"/>
<line x1="1024" y1="1044" x2="1033" y2="1047" stroke="#444" stroke-width="0.85" stroke-dasharray="2.4,1.7" fill="none"/>
<g transform="translate(1004.5,1028.5) rotate(-150.26)"><rect x="0" y="-2.1" width="24.2" height="4.2" fill="#fff" stroke="#333" stroke-width="1.0"/></g>
<ellipse cx="1004.5" cy="1028.5" rx="1.3" ry="2.1" fill="#fff" stroke="#333" stroke-width="0.9" transform="rotate(-60 1004.5 1028.5)" />
<path d="M986.5,1016.7 L983.3,1019.6 L979.1,1018.6 L977.9,1014.5 L981.1,1011.6 L985.3,1012.6 Z" fill="#fff" stroke="#2e2e2e" stroke-width="1.35"/><ellipse cx="982.8" cy="1015.9" rx="2.2" ry="2.4" fill="#fff" stroke="#333" stroke-width="1.2" transform="rotate(-30 982.8000000000001 1015.9)" /><path d="M977.9,1014.5 L980.9,1015.6 M981.1,1011.6 L982.2,1013.4 M982.2,1017.8 L983.3,1019.6" stroke="#333" stroke-width="1"/>
<g transform="translate(1187.5,988.3) rotate(147.79)"><rect x="0" y="-2.0" width="11.8" height="4.0" fill="#fff" stroke="#333" stroke-width="1.0"/></g>
<ellipse cx="1176.3" cy="995.1" rx="2.6" ry="4.3" fill="#fff" stroke="#333" stroke-width="1.0" transform="rotate(-40 1176.3 995.1)" />
<line x1="1187.5" y1="988.3" x2="1206" y2="973" stroke="#444" stroke-width="0.85" stroke-dasharray="2.4,1.7" fill="none"/>
<line x1="1215" y1="965" x2="1259" y2="925" stroke="#444" stroke-width="0.85" stroke-dasharray="2.4,1.7" fill="none"/>
<g fill="none" stroke="#444" stroke-width="1.1">
<polyline points="337.5,288.7 374.1,288.7"/>
<polyline points="633.9,206.3 633.9,235.0"/>
<polyline points="697.3,226.4 719.2,226.4"/>
<polyline points="696.0,259.7 719.2,259.7"/>
<polyline points="669.0,291.4 719.2,291.4"/>
<polyline points="623.2,292.3 606.3,292.3 606.3,307.3"/>
<polyline points="689.7,324.3 719.2,324.3"/>
<polyline points="628.0,349.6 633.9,349.6 633.9,317.0"/>
<polyline points="752.4,422.8 768.3,422.8"/>
<polyline points="755.8,457.0 768.3,457.0"/>
<polyline points="755.0,476.5 768.3,476.5"/>
<polyline points="566.6,450.8 579.6,450.8"/>
<polyline points="561.0,468.4 579.6,468.4"/>
<polyline points="575.5,493.3 579.6,493.3"/>
<polyline points="560.4,531.5 579.6,531.5"/>
<polyline points="562.5,566.4 579.6,566.4"/>
<polyline points="245.4,940.7 261.8,940.7 261.8,923.0"/>
<polyline points="335.2,940.3 353.4,940.3 353.4,890.4"/>
<polyline points="161.6,649.2 130.0,649.2 130.0,729.0"/>
<polyline points="160.7,673.3 150.0,673.3 150.0,746.0"/>
<polyline points="180.0,693.6 165.0,693.6 165.0,754.8"/>
<polyline points="201.0,715.2 186.0,715.2 186.0,765.0"/>
<polyline points="438.7,828.2 457.6,828.2 457.6,848.1"/>
<polyline points="486.2,847.1 478.4,847.1 478.4,862.6"/>
<polyline points="408.2,913.4 408.2,934.2"/>
<polyline points="455.2,915.8 455.2,963.8"/>
<polyline points="599.7,727.6 631.6,727.6"/>
<polyline points="600.7,745.9 631.6,745.9"/>
<polyline points="595.7,769.3 629.6,769.3"/>
<polyline points="542.2,767.5 559.8,767.5 559.8,805.8"/>
<polyline points="732.4,802.4 723.0,802.4 723.0,788.8"/>
<polyline points="730.4,823.4 705.9,823.4 705.9,805.4"/>
<polyline points="614.7,862.7 599.7,862.7"/>
<polyline points="722.0,918.7 722.0,903.6"/>
<polyline points="560.7,944.9 560.7,914.3"/>
<polyline points="705.9,964.7 671.6,964.7 671.6,973.5"/>
<polyline points="707.5,989.3 677.7,989.3"/>
<polyline points="710.3,1058.2 679.7,1058.2"/>
<polyline points="1247.0,209.3 1263.8,209.3"/>
<polyline points="1245.0,257.5 1279.5,257.5"/>
<polyline points="1430.5,277.0 1382.3,277.0"/>
<polyline points="1342.4,327.8 1327.1,327.8 1327.1,320.0"/>
<polyline points="1381.2,358.8 1358.2,358.8"/>
<polyline points="1209.0,412.4 1247.0,412.4"/>
<polyline points="1451.5,408.7 1433.6,408.7 1433.6,422.8"/>
<polyline points="1594.4,468.8 1559.0,468.8"/>
<polyline points="1622.8,512.8 1585.7,512.8"/>
<polyline points="1622.8,533.3 1571.3,533.3"/>
<polyline points="1622.4,552.4 1597.5,552.4"/>
<polyline points="1515.8,580.0 1499.7,580.0"/>
<polyline points="1309.4,484.0 1309.4,497.5"/>
<polyline points="1311.6,547.0 1311.6,558.7"/>
<polyline points="1278.0,557.8 1292.2,557.8 1292.2,582.5"/>
<polyline points="1390.3,596.9 1371.0,596.9 1371.0,606.0"/>
<polyline points="1431.6,618.1 1419.4,618.1"/>
<polyline points="1388.4,645.2 1358.4,645.2"/>
<polyline points="1385.9,691.3 1354.5,691.3"/>
<polyline points="1389.4,714.5 1346.8,714.5"/>
<polyline points="1475.5,764.2 1444.8,764.2"/>
<polyline points="1390.0,870.3 1336.8,870.3"/>
<polyline points="823.0,648.9 840.8,648.9"/>
<polyline points="823.8,692.9 849.7,692.9"/>
<polyline points="862.3,749.0 879.3,749.0 879.3,738.6"/>
<polyline points="934.2,769.0 947.5,769.0 947.5,750.4"/>
<polyline points="911.4,817.0 932.0,817.0"/>
<polyline points="1034.8,827.2 1017.8,827.2"/>
<polyline points="1026.3,883.6 1037.2,883.6"/>
<polyline points="1151.6,888.2 1151.6,874.8"/>
<polyline points="1108.9,970.2 1108.9,958.6"/>
<polyline points="1236.4,978.6 1215.6,978.6"/>
<polyline points="1204.5,1000.8 1181.6,1000.8"/>
<polyline points="1050.5,1020.7 1031.1,1020.7"/>
<polyline points="1050.5,1048.0 1042.0,1048.0"/>
<polyline points="993.2,1052.2 993.2,1025.6"/>
</g>
<g>
<text transform="translate(604.00,203.80) scale(0.8417,1.0350)">704537(2)</text>
<text transform="translate(725.00,231.60) scale(0.8353,1.0350)">473233</text>
<text transform="translate(725.00,265.00) scale(0.8340,1.0350)">46807430</text>
<text transform="translate(725.00,296.60) scale(0.8340,1.0350)">47104730</text>
<text transform="translate(379.10,296.80) scale(0.8353,1.0350)">476678</text>
<text transform="translate(581.90,325.30) scale(0.8170,1.0350)">514220</text>
<text transform="translate(725.00,329.90) scale(0.8253,1.0350)">464454</text>
<text transform="translate(576.20,356.80) scale(0.8120,1.0350)">704545</text>
<text transform="translate(773.80,429.10) scale(0.7970,1.0350)">701521</text>
<text transform="translate(773.80,462.50) scale(0.8186,1.0350)">514216</text>
<text transform="translate(773.80,483.00) scale(0.8331,1.0350)">704537(3)</text>
<text transform="translate(585.10,455.10) scale(0.8356,1.0350)">464450(3)</text>
<text transform="translate(585.10,475.70) scale(0.8356,1.0350)">704538(4)</text>
<text transform="translate(585.10,499.20) scale(0.8356,1.0350)">464453(3)</text>
<text transform="translate(585.10,535.60) scale(0.8356,1.0350)">701985(3)</text>
<text transform="translate(585.10,570.50) scale(0.8423,1.0350)">47104730(2)</text>
<text transform="translate(165.30,654.00) scale(0.8404,1.0350)">461289(2)</text>
<text transform="translate(159.00,677.90) scale(0.8331,1.0350)">702724(2)</text>
<text transform="translate(179.50,698.80) scale(0.8331,1.0350)">461290(2)</text>
<text transform="translate(200.60,720.60) scale(0.8331,1.0350)">450263(2)</text>
<text transform="translate(156.30,947.00) scale(0.8423,1.0350)">47101901(2)</text>
<text transform="translate(281.00,947.00) scale(0.8386,1.0350)">468842</text>
<text transform="translate(373.30,953.30) scale(0.8377,1.0350)">46807030</text>
<text transform="translate(366.00,832.70) scale(0.8429,1.0350)">514706(2)</text>
<text transform="translate(416.30,981.60) scale(0.8368,1.0350)">706018(4)</text>
<text transform="translate(635.20,735.00) scale(0.8103,1.0350)">702724</text>
<text transform="translate(634.20,752.50) scale(0.8136,1.0350)">700719</text>
<text transform="translate(630.60,774.30) scale(0.8270,1.0350)">473063(4)</text>
<text transform="translate(469.00,773.50) scale(0.8331,1.0350)">700203(2)</text>
<text transform="translate(733.00,807.80) scale(0.8203,1.0350)">454453</text>
<text transform="translate(731.40,828.70) scale(0.8227,1.0350)">46865030</text>
<text transform="translate(485.00,852.00) scale(0.8331,1.0350)">704534(2)</text>
<text transform="translate(615.30,868.60) scale(0.8286,1.0350)">705419</text>
<text transform="translate(686.10,936.90) scale(0.8140,1.0350)">47312201</text>
<text transform="translate(524.00,961.00) scale(0.8240,1.0350)">47301030</text>
<text transform="translate(706.90,971.50) scale(0.8343,1.0350)">514704(2)</text>
<text transform="translate(707.90,994.90) scale(0.8270,1.0350)">464932(2)</text>
<text transform="translate(710.90,1064.30) scale(0.8240,1.0350)">46806830</text>
<text transform="translate(1178.90,214.70) scale(0.8295,1.0350)">510433(2)</text>
<text transform="translate(1177.80,263.80) scale(0.8377,1.0350)">47326030</text>
<text transform="translate(1435.70,283.30) scale(0.8302,1.0350)">47326230</text>
<text transform="translate(1346.20,333.80) scale(0.8170,1.0350)">468641</text>
<text transform="translate(1384.80,366.10) scale(0.8429,1.0350)">544578(2)</text>
<text transform="translate(1123.20,417.90) scale(0.8404,1.0350)">47318530(2)</text>
<text transform="translate(1454.90,415.00) scale(0.8283,1.0350)">500198(4)</text>
<text transform="translate(1601.00,475.70) scale(0.8265,1.0350)">47326130</text>
<text transform="translate(1629.00,518.80) scale(0.8404,1.0350)">470629(2)</text>
<text transform="translate(1629.00,539.80) scale(0.8423,1.0350)">47343930(2)</text>
<text transform="translate(1629.80,559.80) scale(0.8307,1.0350)">700561(2)</text>
<text transform="translate(1281.90,512.30) scale(0.8417,1.0350)">704537(4)</text>
<text transform="translate(1284.30,543.20) scale(0.8246,1.0350)">468831(2)</text>
<text transform="translate(1209.40,562.20) scale(0.8356,1.0350)">704536(2)</text>
<text transform="translate(1521.60,587.40) scale(0.8404,1.0350)">704546(4)</text>
<text transform="translate(1392.30,603.20) scale(0.8270,1.0350)">476313</text>
<text transform="translate(1436.50,625.80) scale(0.9434,1.1508)">700545</text>
<text transform="translate(1395.60,651.60) scale(0.8319,1.0350)">544578(6)</text>
<text transform="translate(1392.90,696.20) scale(0.8343,1.0350)">705900(2)</text>
<text transform="translate(1396.20,719.40) scale(0.8053,1.0350)">476312</text>
<text transform="translate(1481.90,771.30) scale(0.8368,1.0350)">705900(2)</text>
<text transform="translate(1395.80,878.00) scale(0.8015,1.0350)">47317901</text>
<text transform="translate(756.00,655.90) scale(0.8365,1.0350)">47318330</text>
<text transform="translate(757.00,699.80) scale(0.8340,1.0350)">46831230</text>
<text transform="translate(812.20,756.40) scale(0.8336,1.0350)">468493</text>
<text transform="translate(866.00,775.60) scale(0.8270,1.0350)">700701(2)</text>
<text transform="translate(856.50,822.80) scale(0.8203,1.0350)">473336</text>
<text transform="translate(1038.90,833.20) scale(0.8170,1.0350)">473199</text>
<text transform="translate(976.00,890.80) scale(0.8369,1.0350)">504729</text>
<text transform="translate(1057.30,1028.00) scale(0.8327,1.0350)">47333930</text>
<text transform="translate(1056.00,1053.40) scale(0.8404,1.0350)">704537(2)</text>
<text transform="translate(962.90,1066.70) scale(0.8220,1.0350)">703892</text>
<text transform="translate(1125.20,903.70) scale(0.8404,1.0350)">704128(2)</text>
<text transform="translate(1081.90,985.60) scale(0.8441,1.0350)">544578(2)</text>
<text transform="translate(1240.10,985.60) scale(0.8303,1.0350)">473335</text>
<text transform="translate(1209.00,1008.70) scale(0.8307,1.0350)">704128(2)</text>
</g>
</svg>
</body></html>
